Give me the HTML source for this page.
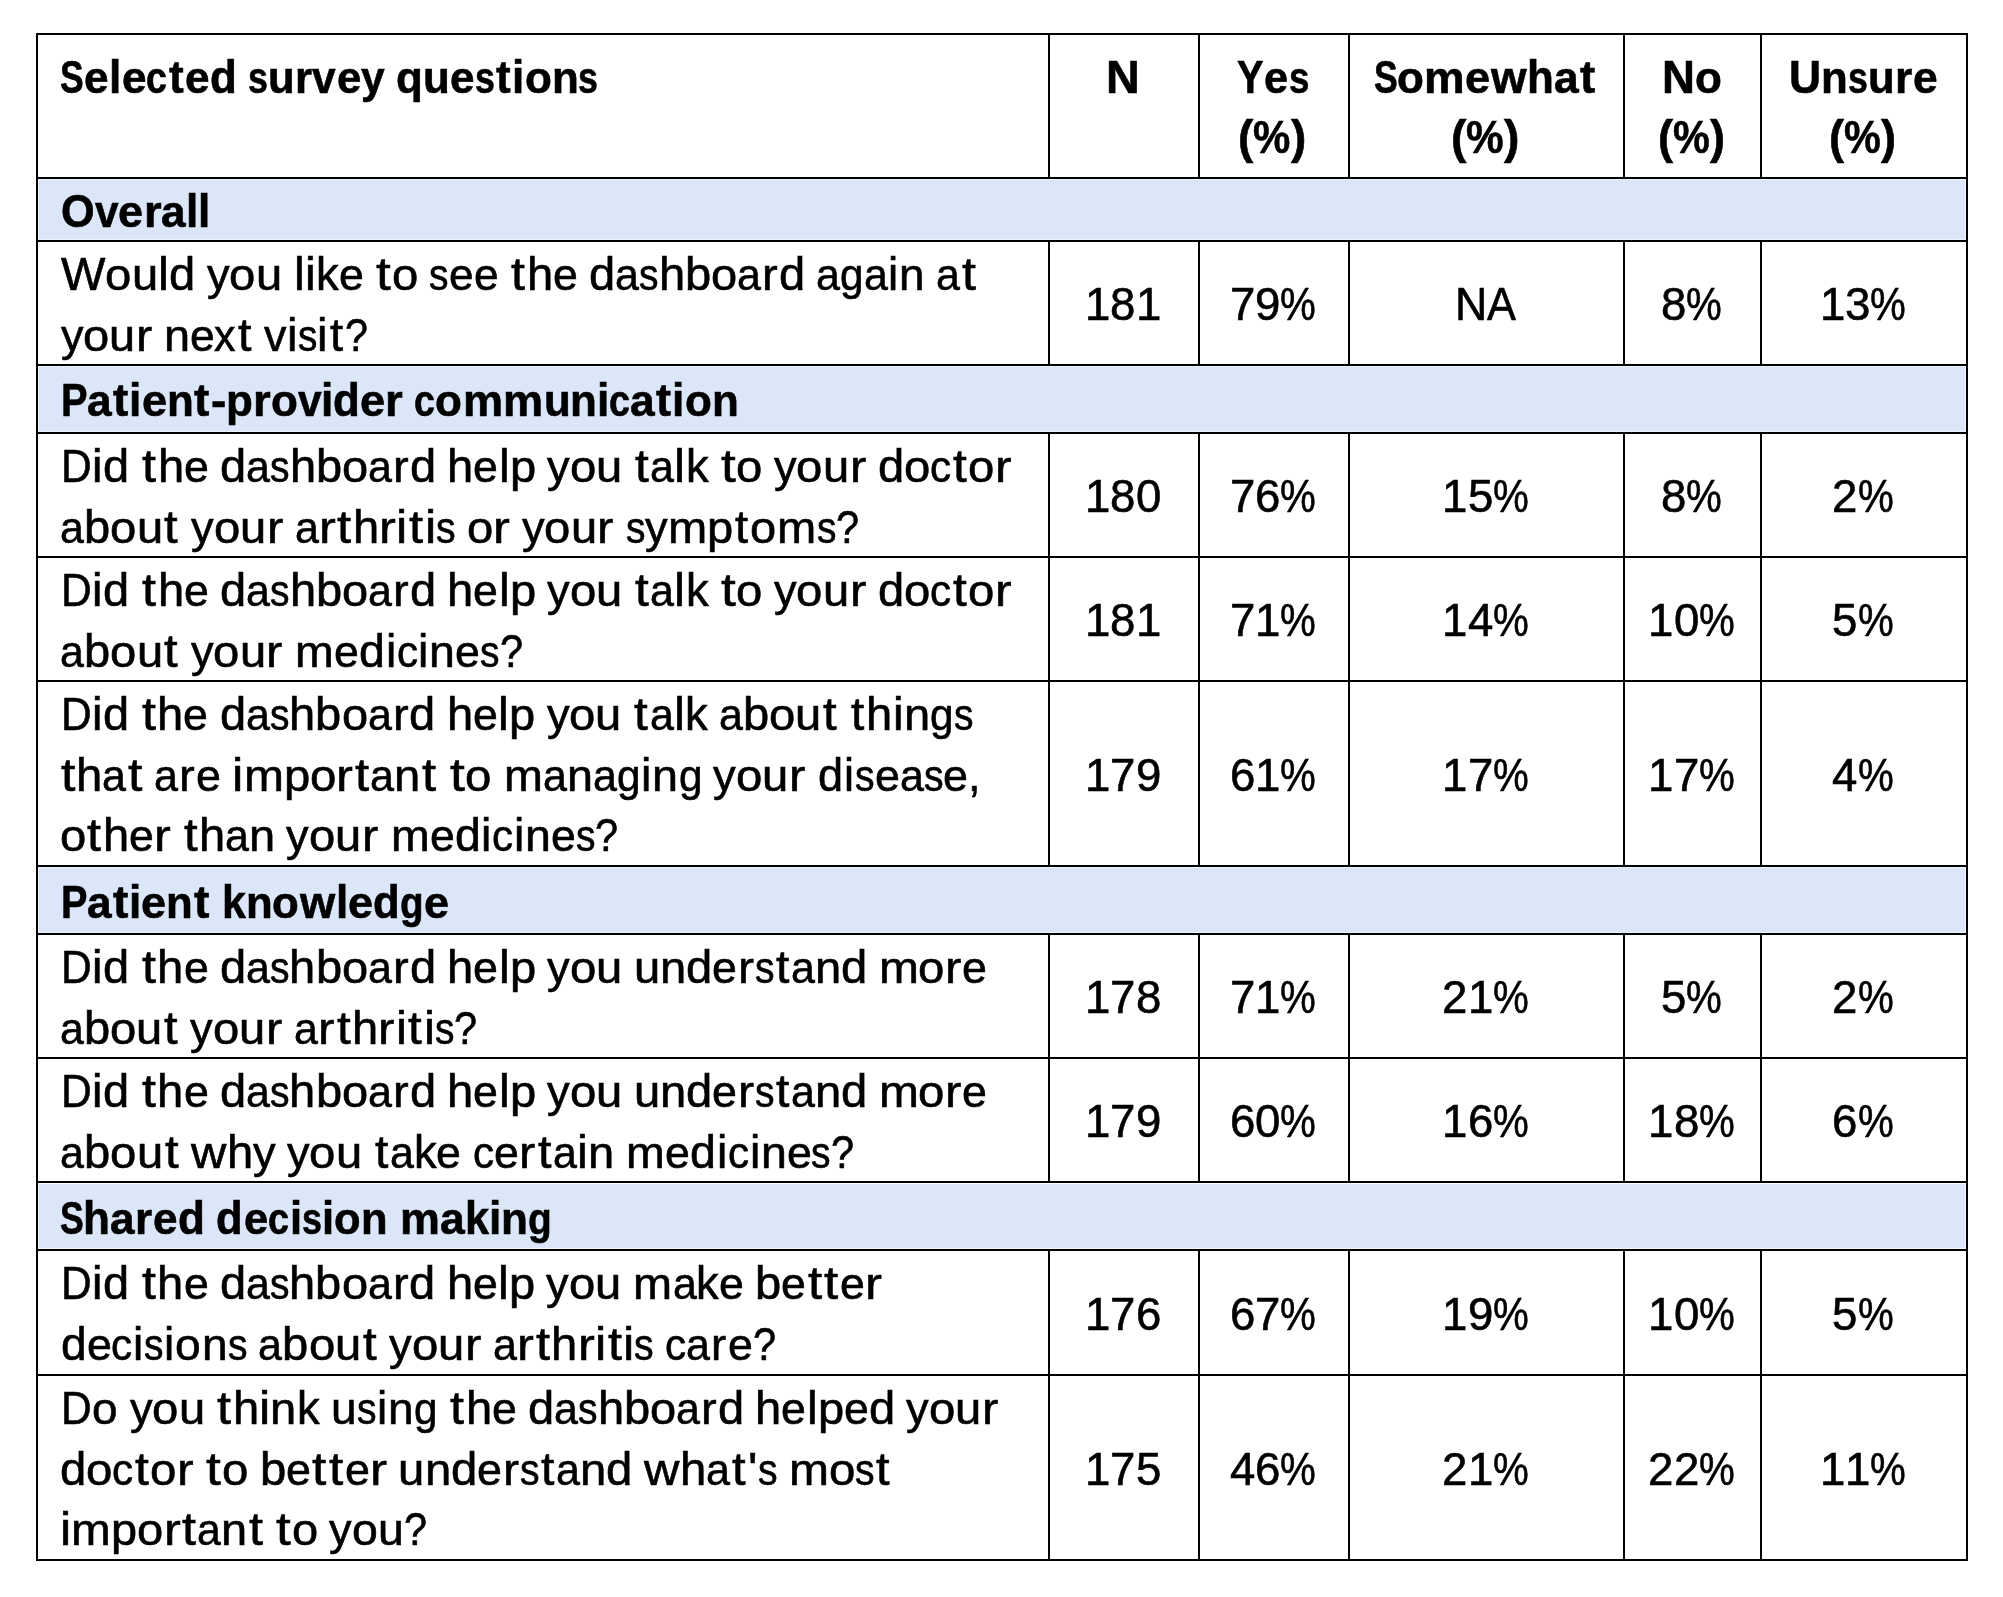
<!DOCTYPE html><html><head><meta charset="utf-8"><style>
html,body{margin:0;padding:0;background:#fff;width:2003px;height:1597px;overflow:hidden;position:relative}
#w{position:absolute;left:0;top:0;width:2003px;height:1597px;filter:grayscale(1)}
.t{position:absolute;white-space:pre;font-family:"Liberation Sans",sans-serif;font-size:46px;line-height:46px;color:#000;transform-origin:0 0;-webkit-text-stroke:0.60px #000}
.b{font-weight:700}
.h{position:absolute;background:#000;height:2px}
.v{position:absolute;background:#000;width:2px}
.bg{position:absolute;background:#DBE7F8}
.n{position:absolute;white-space:pre;font-family:"Liberation Sans",sans-serif;font-size:46px;line-height:46px;color:#000;text-align:center;-webkit-text-stroke:0.60px #000}
</style></head><body>
<div class="bg" style="left:38px;top:179px;width:1928px;height:61px;background:#EDF3FC"></div>
<div class="bg" style="left:39px;top:180px;width:1926px;height:59px"></div>
<div class="bg" style="left:38px;top:366px;width:1928px;height:66px;background:#EDF3FC"></div>
<div class="bg" style="left:39px;top:367px;width:1926px;height:64px"></div>
<div class="bg" style="left:38px;top:867px;width:1928px;height:66px;background:#EDF3FC"></div>
<div class="bg" style="left:39px;top:868px;width:1926px;height:64px"></div>
<div class="bg" style="left:38px;top:1183px;width:1928px;height:66px;background:#EDF3FC"></div>
<div class="bg" style="left:38px;top:1183px;width:1928px;height:1px;background:#FFFFFF"></div>
<div class="bg" style="left:39px;top:1184px;width:1926px;height:64px"></div>
<div class="h" style="left:36px;top:33px;width:1932px"></div>
<div class="h" style="left:36px;top:177px;width:1932px"></div>
<div class="h" style="left:36px;top:240px;width:1932px"></div>
<div class="h" style="left:36px;top:364px;width:1932px"></div>
<div class="h" style="left:36px;top:432px;width:1932px"></div>
<div class="h" style="left:36px;top:556px;width:1932px"></div>
<div class="h" style="left:36px;top:680px;width:1932px"></div>
<div class="h" style="left:36px;top:865px;width:1932px"></div>
<div class="h" style="left:36px;top:933px;width:1932px"></div>
<div class="h" style="left:36px;top:1057px;width:1932px"></div>
<div class="h" style="left:36px;top:1181px;width:1932px"></div>
<div class="h" style="left:36px;top:1249px;width:1932px"></div>
<div class="h" style="left:36px;top:1374px;width:1932px"></div>
<div class="h" style="left:36px;top:1559px;width:1932px"></div>
<div class="v" style="left:36px;top:33px;height:1528px"></div>
<div class="v" style="left:1048px;top:33px;height:146px"></div>
<div class="v" style="left:1048px;top:240px;height:126px"></div>
<div class="v" style="left:1048px;top:432px;height:126px"></div>
<div class="v" style="left:1048px;top:556px;height:126px"></div>
<div class="v" style="left:1048px;top:680px;height:187px"></div>
<div class="v" style="left:1048px;top:933px;height:126px"></div>
<div class="v" style="left:1048px;top:1057px;height:126px"></div>
<div class="v" style="left:1048px;top:1249px;height:127px"></div>
<div class="v" style="left:1048px;top:1374px;height:187px"></div>
<div class="v" style="left:1198px;top:33px;height:146px"></div>
<div class="v" style="left:1198px;top:240px;height:126px"></div>
<div class="v" style="left:1198px;top:432px;height:126px"></div>
<div class="v" style="left:1198px;top:556px;height:126px"></div>
<div class="v" style="left:1198px;top:680px;height:187px"></div>
<div class="v" style="left:1198px;top:933px;height:126px"></div>
<div class="v" style="left:1198px;top:1057px;height:126px"></div>
<div class="v" style="left:1198px;top:1249px;height:127px"></div>
<div class="v" style="left:1198px;top:1374px;height:187px"></div>
<div class="v" style="left:1348px;top:33px;height:146px"></div>
<div class="v" style="left:1348px;top:240px;height:126px"></div>
<div class="v" style="left:1348px;top:432px;height:126px"></div>
<div class="v" style="left:1348px;top:556px;height:126px"></div>
<div class="v" style="left:1348px;top:680px;height:187px"></div>
<div class="v" style="left:1348px;top:933px;height:126px"></div>
<div class="v" style="left:1348px;top:1057px;height:126px"></div>
<div class="v" style="left:1348px;top:1249px;height:127px"></div>
<div class="v" style="left:1348px;top:1374px;height:187px"></div>
<div class="v" style="left:1623px;top:33px;height:146px"></div>
<div class="v" style="left:1623px;top:240px;height:126px"></div>
<div class="v" style="left:1623px;top:432px;height:126px"></div>
<div class="v" style="left:1623px;top:556px;height:126px"></div>
<div class="v" style="left:1623px;top:680px;height:187px"></div>
<div class="v" style="left:1623px;top:933px;height:126px"></div>
<div class="v" style="left:1623px;top:1057px;height:126px"></div>
<div class="v" style="left:1623px;top:1249px;height:127px"></div>
<div class="v" style="left:1623px;top:1374px;height:187px"></div>
<div class="v" style="left:1760px;top:33px;height:146px"></div>
<div class="v" style="left:1760px;top:240px;height:126px"></div>
<div class="v" style="left:1760px;top:432px;height:126px"></div>
<div class="v" style="left:1760px;top:556px;height:126px"></div>
<div class="v" style="left:1760px;top:680px;height:187px"></div>
<div class="v" style="left:1760px;top:933px;height:126px"></div>
<div class="v" style="left:1760px;top:1057px;height:126px"></div>
<div class="v" style="left:1760px;top:1249px;height:127px"></div>
<div class="v" style="left:1760px;top:1374px;height:187px"></div>
<div class="v" style="left:1966px;top:33px;height:1528px"></div>
<div id="w">
<div class="t b" id="t0_0_0" style="left:60.20px;top:54.30px;transform:scaleX(0.7705)">S</div>
<div class="t b" id="t0_0_1" style="left:84.13px;top:54.30px;transform-origin:0 39px;transform:scale(0.9604,0.9550)">e</div>
<div class="t b" id="t0_0_2" style="left:108.99px;top:54.30px;transform:scaleX(0.9604)">l</div>
<div class="t b" id="t0_0_3" style="left:121.56px;top:54.30px;transform-origin:0 39px;transform:scale(0.9604,0.9550)">e</div>
<div class="t b" id="t0_0_4" style="left:146.42px;top:54.30px;transform-origin:0 39px;transform:scale(0.8166,0.9550)">c</div>
<div class="t b" id="t0_0_5" style="left:168.62px;top:54.30px;transform:scaleX(0.9604)">t</div>
<div class="t b" id="t0_0_6" style="left:184.94px;top:54.30px;transform-origin:0 39px;transform:scale(0.9604,0.9550)">e</div>
<div class="t b" id="t0_0_7" style="left:209.79px;top:54.30px;transform:scaleX(0.9552)">d</div>
<div class="t b" id="t0_1_0" style="left:247.93px;top:54.30px;transform-origin:0 39px;transform:scale(0.7795,0.9550)">s</div>
<div class="t b" id="t0_1_1" style="left:267.93px;top:54.30px;transform-origin:0 39px;transform:scale(0.9513,0.9550)">u</div>
<div class="t b" id="t0_1_2" style="left:295.07px;top:54.30px;transform-origin:0 39px;transform:scale(0.9513,0.9550)">r</div>
<div class="t b" id="t0_1_3" style="left:312.45px;top:54.30px;transform-origin:0 39px;transform:scale(0.9241,0.9550)">v</div>
<div class="t b" id="t0_1_4" style="left:336.50px;top:54.30px;transform-origin:0 39px;transform:scale(0.9513,0.9550)">e</div>
<div class="t b" id="t0_1_5" style="left:361.24px;top:54.30px;transform-origin:0 39px;transform:scale(0.9260,0.9550)">y</div>
<div class="t b" id="t0_2_0" style="left:396.22px;top:54.30px;transform-origin:0 39px;transform:scale(0.9552,0.9550)">q</div>
<div class="t b" id="t0_2_1" style="left:423.06px;top:54.30px;transform-origin:0 39px;transform:scale(0.9552,0.9550)">u</div>
<div class="t b" id="t0_2_2" style="left:450.22px;top:54.30px;transform-origin:0 39px;transform:scale(0.9581,0.9550)">e</div>
<div class="t b" id="t0_2_3" style="left:475.04px;top:54.30px;transform-origin:0 39px;transform:scale(0.7795,0.9550)">s</div>
<div class="t b" id="t0_2_4" style="left:496.32px;top:54.30px;transform:scaleX(0.9581)">t</div>
<div class="t b" id="t0_2_5" style="left:512.35px;top:54.30px;transform:scaleX(0.9581)">i</div>
<div class="t b" id="t0_2_6" style="left:524.62px;top:54.30px;transform-origin:0 39px;transform:scale(0.9570,0.9550)">o</div>
<div class="t b" id="t0_2_7" style="left:551.51px;top:54.30px;transform-origin:0 39px;transform:scale(0.9552,0.9550)">n</div>
<div class="t b" id="t0_2_8" style="left:578.35px;top:54.30px;transform-origin:0 39px;transform:scale(0.7795,0.9550)">s</div>
<div class="t b" id="t1_0_0" style="left:1106.12px;top:54.30px;transform:scaleX(1.0159)">N</div>
<div class="t b" id="t2_0_0" style="left:1236.65px;top:54.00px;transform:scaleX(0.8665)">Y</div>
<div class="t b" id="t2_0_1" style="left:1264.02px;top:54.00px;transform-origin:0 39px;transform:scale(0.9442,0.9550)">e</div>
<div class="t b" id="t2_0_2" style="left:1288.95px;top:54.00px;transform-origin:0 39px;transform:scale(0.7974,0.9550)">s</div>
<div class="t b" id="t3_0_0" style="left:1237.73px;top:114.00px;transform:scaleX(0.9971)">(</div>
<div class="t b" id="t3_0_1" style="left:1253.35px;top:114.00px;transform:scaleX(0.9123)">%</div>
<div class="t b" id="t3_0_2" style="left:1291.01px;top:114.00px;transform:scaleX(0.9971)">)</div>
<div class="t b" id="t4_0_0" style="left:1373.80px;top:54.00px;transform:scaleX(0.7731)">S</div>
<div class="t b" id="t4_0_1" style="left:1397.48px;top:54.00px;transform-origin:0 39px;transform:scale(0.9565,0.9550)">o</div>
<div class="t b" id="t4_0_2" style="left:1424.35px;top:54.00px;transform-origin:0 39px;transform:scale(0.9930,0.9550)">m</div>
<div class="t b" id="t4_0_3" style="left:1464.97px;top:54.00px;transform-origin:0 39px;transform:scale(0.9822,0.9550)">e</div>
<div class="t b" id="t4_0_4" style="left:1490.90px;top:54.00px;transform-origin:0 39px;transform:scale(0.9953,0.9550)">w</div>
<div class="t b" id="t4_0_5" style="left:1527.31px;top:54.00px;transform:scaleX(0.9547)">h</div>
<div class="t b" id="t4_0_6" style="left:1554.14px;top:54.00px;transform-origin:0 39px;transform:scale(0.9646,0.9550)">a</div>
<div class="t b" id="t4_0_7" style="left:1579.86px;top:54.00px;transform:scaleX(0.9953)">t</div>
<div class="t b" id="t5_0_0" style="left:1450.67px;top:114.00px;transform:scaleX(1.0057)">(</div>
<div class="t b" id="t5_0_1" style="left:1466.43px;top:114.00px;transform:scaleX(0.9202)">%</div>
<div class="t b" id="t5_0_2" style="left:1504.41px;top:114.00px;transform:scaleX(1.0057)">)</div>
<div class="t b" id="t6_0_0" style="left:1662.08px;top:54.00px;transform:scaleX(0.9919)">N</div>
<div class="t b" id="t6_0_1" style="left:1695.03px;top:54.00px;transform-origin:0 39px;transform:scale(0.9573,0.9550)">o</div>
<div class="t b" id="t7_0_0" style="left:1657.97px;top:114.00px;transform:scaleX(0.9826)">(</div>
<div class="t b" id="t7_0_1" style="left:1673.37px;top:114.00px;transform:scaleX(0.8991)">%</div>
<div class="t b" id="t7_0_2" style="left:1710.48px;top:114.00px;transform:scaleX(0.9826)">)</div>
<div class="t b" id="t8_0_0" style="left:1789.17px;top:54.00px;transform:scaleX(0.9658)">U</div>
<div class="t b" id="t8_0_1" style="left:1821.47px;top:54.00px;transform-origin:0 39px;transform:scale(0.9517,0.9550)">n</div>
<div class="t b" id="t8_0_2" style="left:1848.21px;top:54.00px;transform-origin:0 39px;transform:scale(0.7767,0.9550)">s</div>
<div class="t b" id="t8_0_3" style="left:1868.08px;top:54.00px;transform-origin:0 39px;transform:scale(0.9517,0.9550)">u</div>
<div class="t b" id="t8_0_4" style="left:1895.02px;top:54.00px;transform-origin:0 39px;transform:scale(0.9658,0.9550)">r</div>
<div class="t b" id="t8_0_5" style="left:1912.67px;top:54.00px;transform-origin:0 39px;transform:scale(0.9658,0.9550)">e</div>
<div class="t b" id="t9_0_0" style="left:1828.96px;top:114.00px;transform:scaleX(0.9826)">(</div>
<div class="t b" id="t9_0_1" style="left:1844.36px;top:114.00px;transform:scaleX(0.8991)">%</div>
<div class="t b" id="t9_0_2" style="left:1881.47px;top:114.00px;transform:scaleX(0.9826)">)</div>
<div class="t b" id="t10_0_0" style="left:61.22px;top:187.80px;transform:scaleX(0.9409)">O</div>
<div class="t b" id="t10_0_1" style="left:94.88px;top:187.80px;transform-origin:0 39px;transform:scale(0.9207,0.9550)">v</div>
<div class="t b" id="t10_0_2" style="left:118.44px;top:187.80px;transform-origin:0 39px;transform:scale(0.9791,0.9550)">e</div>
<div class="t b" id="t10_0_3" style="left:143.52px;top:187.80px;transform-origin:0 39px;transform:scale(0.9842,0.9550)">r</div>
<div class="t b" id="t10_0_4" style="left:161.17px;top:187.80px;transform-origin:0 39px;transform:scale(0.9616,0.9550)">a</div>
<div class="t b" id="t10_0_5" style="left:185.77px;top:187.80px;transform:scaleX(0.9586)">l</div>
<div class="t b" id="t10_0_6" style="left:198.02px;top:187.80px;transform:scaleX(0.9586)">l</div>
<div class="t" id="t11_0_0" style="left:60.87px;top:251.00px;transform:scaleX(1.0234)">W</div>
<div class="t" id="t11_0_1" style="left:105.30px;top:251.00px;transform-origin:0 39px;transform:scale(1.0284,0.9550)">o</div>
<div class="t" id="t11_0_2" style="left:131.61px;top:251.00px;transform-origin:0 39px;transform:scale(1.0245,0.9550)">u</div>
<div class="t" id="t11_0_3" style="left:158.09px;top:251.00px;transform:scaleX(1.0705)">l</div>
<div class="t" id="t11_0_4" style="left:169.30px;top:251.00px;transform:scaleX(1.0245)">d</div>
<div class="t" id="t11_1_0" style="left:206.80px;top:251.00px;transform-origin:0 39px;transform:scale(0.9833,0.9550)">y</div>
<div class="t" id="t11_1_1" style="left:229.41px;top:251.00px;transform-origin:0 39px;transform:scale(1.0284,0.9550)">o</div>
<div class="t" id="t11_1_2" style="left:255.72px;top:251.00px;transform-origin:0 39px;transform:scale(1.0245,0.9550)">u</div>
<div class="t" id="t11_2_0" style="left:293.58px;top:251.00px;transform:scaleX(1.0527)">l</div>
<div class="t" id="t11_2_1" style="left:305.06px;top:251.00px;transform:scaleX(1.0527)">i</div>
<div class="t" id="t11_2_2" style="left:316.18px;top:251.00px;transform:scaleX(0.9876)">k</div>
<div class="t" id="t11_2_3" style="left:338.90px;top:251.00px;transform-origin:0 39px;transform:scale(0.9718,0.9550)">e</div>
<div class="t" id="t11_3_0" style="left:376.02px;top:251.00px;transform:scaleX(1.1554)">t</div>
<div class="t" id="t11_3_1" style="left:391.77px;top:251.00px;transform-origin:0 39px;transform:scale(1.0284,0.9550)">o</div>
<div class="t" id="t11_4_0" style="left:429.36px;top:251.00px;transform-origin:0 39px;transform:scale(0.8487,0.9550)">s</div>
<div class="t" id="t11_4_1" style="left:449.01px;top:251.00px;transform-origin:0 39px;transform:scale(0.9617,0.9550)">e</div>
<div class="t" id="t11_4_2" style="left:473.87px;top:251.00px;transform-origin:0 39px;transform:scale(0.9617,0.9550)">e</div>
<div class="t" id="t11_5_0" style="left:511.27px;top:251.00px;transform:scaleX(1.0920)">t</div>
<div class="t" id="t11_5_1" style="left:526.61px;top:251.00px;transform:scaleX(1.0245)">h</div>
<div class="t" id="t11_5_2" style="left:552.82px;top:251.00px;transform-origin:0 39px;transform:scale(0.9718,0.9550)">e</div>
<div class="t" id="t11_6_0" style="left:588.99px;top:251.00px;transform:scaleX(1.0230)">d</div>
<div class="t" id="t11_6_1" style="left:615.18px;top:251.00px;transform-origin:0 39px;transform:scale(0.9347,0.9550)">a</div>
<div class="t" id="t11_6_2" style="left:639.09px;top:251.00px;transform-origin:0 39px;transform:scale(0.8487,0.9550)">s</div>
<div class="t" id="t11_6_3" style="left:658.63px;top:251.00px;transform:scaleX(1.0230)">h</div>
<div class="t" id="t11_6_4" style="left:684.84px;top:251.00px;transform:scaleX(1.0230)">b</div>
<div class="t" id="t11_6_5" style="left:711.10px;top:251.00px;transform-origin:0 39px;transform:scale(1.0230,0.9550)">o</div>
<div class="t" id="t11_6_6" style="left:737.34px;top:251.00px;transform-origin:0 39px;transform:scale(0.9347,0.9550)">a</div>
<div class="t" id="t11_6_7" style="left:762.13px;top:251.00px;transform-origin:0 39px;transform:scale(1.0230,0.9550)">r</div>
<div class="t" id="t11_6_8" style="left:778.70px;top:251.00px;transform:scaleX(1.0230)">d</div>
<div class="t" id="t11_7_0" style="left:816.17px;top:251.00px;transform-origin:0 39px;transform:scale(0.9347,0.9550)">a</div>
<div class="t" id="t11_7_1" style="left:840.08px;top:251.00px;transform-origin:0 39px;transform:scale(0.9191,0.9550)">g</div>
<div class="t" id="t11_7_2" style="left:863.60px;top:251.00px;transform-origin:0 39px;transform:scale(0.9347,0.9550)">a</div>
<div class="t" id="t11_7_3" style="left:888.15px;top:251.00px;transform:scaleX(0.9978)">i</div>
<div class="t" id="t11_7_4" style="left:899.34px;top:251.00px;transform-origin:0 39px;transform:scale(0.9978,0.9550)">n</div>
<div class="t" id="t11_8_0" style="left:936.49px;top:251.00px;transform-origin:0 39px;transform:scale(0.9347,0.9550)">a</div>
<div class="t" id="t11_8_1" style="left:961.79px;top:251.00px;transform:scaleX(1.0911)">t</div>
<div class="t" id="t12_0_0" style="left:60.50px;top:311.60px;transform-origin:0 39px;transform:scale(0.9772,0.9550)">y</div>
<div class="t" id="t12_0_1" style="left:82.97px;top:311.60px;transform-origin:0 39px;transform:scale(1.0220,0.9550)">o</div>
<div class="t" id="t12_0_2" style="left:109.12px;top:311.60px;transform-origin:0 39px;transform:scale(1.0181,0.9550)">u</div>
<div class="t" id="t12_0_3" style="left:135.72px;top:311.60px;transform-origin:0 39px;transform:scale(1.0588,0.9550)">r</div>
<div class="t" id="t12_1_0" style="left:163.70px;top:311.60px;transform-origin:0 39px;transform:scale(1.0181,0.9550)">n</div>
<div class="t" id="t12_1_1" style="left:189.74px;top:311.60px;transform-origin:0 39px;transform:scale(0.9658,0.9550)">e</div>
<div class="t" id="t12_1_2" style="left:214.45px;top:311.60px;transform-origin:0 39px;transform:scale(0.9340,0.9550)">x</div>
<div class="t" id="t12_1_3" style="left:237.52px;top:311.60px;transform:scaleX(1.0526)">t</div>
<div class="t" id="t12_2_0" style="left:263.76px;top:311.60px;transform-origin:0 39px;transform:scale(0.9750,0.9550)">v</div>
<div class="t" id="t12_2_1" style="left:286.66px;top:311.60px;transform:scaleX(1.0244)">i</div>
<div class="t" id="t12_2_2" style="left:297.60px;top:311.60px;transform-origin:0 39px;transform:scale(0.8434,0.9550)">s</div>
<div class="t" id="t12_2_3" style="left:317.47px;top:311.60px;transform:scaleX(1.0244)">i</div>
<div class="t" id="t12_2_4" style="left:330.17px;top:311.60px;transform:scaleX(1.0244)">t</div>
<div class="t" id="t12_2_5" style="left:345.03px;top:311.60px;transform:scaleX(0.8979)">?</div>
<div class="t b" id="t13_0_0" style="left:60.60px;top:376.70px;transform:scaleX(0.8664)">P</div>
<div class="t b" id="t13_0_1" style="left:87.18px;top:376.70px;transform-origin:0 39px;transform:scale(0.9649,0.9550)">a</div>
<div class="t b" id="t13_0_2" style="left:112.88px;top:376.70px;transform:scaleX(1.0004)">t</div>
<div class="t b" id="t13_0_3" style="left:129.21px;top:376.70px;transform:scaleX(0.9618)">i</div>
<div class="t b" id="t13_0_4" style="left:141.50px;top:376.70px;transform-origin:0 39px;transform:scale(0.9825,0.9550)">e</div>
<div class="t b" id="t13_0_5" style="left:166.64px;top:376.70px;transform-origin:0 39px;transform:scale(0.9550,0.9550)">n</div>
<div class="t b" id="t13_0_6" style="left:194.48px;top:376.70px;transform:scaleX(1.0004)">t</div>
<div class="t b" id="t13_0_7" style="left:210.81px;top:376.70px;transform:scaleX(0.9982)">-</div>
<div class="t b" id="t13_0_8" style="left:226.10px;top:376.70px;transform-origin:0 39px;transform:scale(0.9550,0.9550)">p</div>
<div class="t b" id="t13_0_9" style="left:252.93px;top:376.70px;transform-origin:0 39px;transform:scale(0.9909,0.9550)">r</div>
<div class="t b" id="t13_0_10" style="left:270.67px;top:376.70px;transform-origin:0 39px;transform:scale(0.9568,0.9550)">o</div>
<div class="t b" id="t13_0_11" style="left:297.56px;top:376.70px;transform-origin:0 39px;transform:scale(0.9239,0.9550)">v</div>
<div class="t b" id="t13_0_12" style="left:321.19px;top:376.70px;transform:scaleX(0.9618)">i</div>
<div class="t b" id="t13_0_13" style="left:333.49px;top:376.70px;transform:scaleX(0.9550)">d</div>
<div class="t b" id="t13_0_14" style="left:360.32px;top:376.70px;transform-origin:0 39px;transform:scale(0.9825,0.9550)">e</div>
<div class="t b" id="t13_0_15" style="left:385.45px;top:376.70px;transform-origin:0 39px;transform:scale(0.9909,0.9550)">r</div>
<div class="t b" id="t13_1_0" style="left:414.49px;top:376.70px;transform-origin:0 39px;transform:scale(0.8165,0.9550)">c</div>
<div class="t b" id="t13_1_1" style="left:435.38px;top:376.70px;transform-origin:0 39px;transform:scale(0.9568,0.9550)">o</div>
<div class="t b" id="t13_1_2" style="left:462.50px;top:376.70px;transform-origin:0 39px;transform:scale(0.9815,0.9550)">m</div>
<div class="t b" id="t13_1_3" style="left:503.13px;top:376.70px;transform-origin:0 39px;transform:scale(0.9815,0.9550)">m</div>
<div class="t b" id="t13_1_4" style="left:543.51px;top:376.70px;transform-origin:0 39px;transform:scale(0.9550,0.9550)">u</div>
<div class="t b" id="t13_1_5" style="left:570.34px;top:376.70px;transform-origin:0 39px;transform:scale(0.9550,0.9550)">n</div>
<div class="t b" id="t13_1_6" style="left:597.18px;top:376.70px;transform:scaleX(0.9618)">i</div>
<div class="t b" id="t13_1_7" style="left:609.47px;top:376.70px;transform-origin:0 39px;transform:scale(0.8165,0.9550)">c</div>
<div class="t b" id="t13_1_8" style="left:630.36px;top:376.70px;transform-origin:0 39px;transform:scale(0.9649,0.9550)">a</div>
<div class="t b" id="t13_1_9" style="left:656.20px;top:376.70px;transform:scaleX(0.9815)">t</div>
<div class="t b" id="t13_1_10" style="left:672.38px;top:376.70px;transform:scaleX(0.9618)">i</div>
<div class="t b" id="t13_1_11" style="left:684.68px;top:376.70px;transform-origin:0 39px;transform:scale(0.9568,0.9550)">o</div>
<div class="t b" id="t13_1_12" style="left:711.56px;top:376.70px;transform-origin:0 39px;transform:scale(0.9550,0.9550)">n</div>
<div class="t" id="t14_0_0" style="left:61.27px;top:442.80px;transform:scaleX(0.9239)">D</div>
<div class="t" id="t14_0_1" style="left:92.49px;top:442.80px;transform:scaleX(1.0202)">i</div>
<div class="t" id="t14_0_2" style="left:103.49px;top:442.80px;transform:scaleX(1.0202)">d</div>
<div class="t" id="t14_1_0" style="left:142.30px;top:442.80px;transform:scaleX(1.0916)">t</div>
<div class="t" id="t14_1_1" style="left:157.63px;top:442.80px;transform:scaleX(1.0241)">h</div>
<div class="t" id="t14_1_2" style="left:183.83px;top:442.80px;transform-origin:0 39px;transform:scale(0.9714,0.9550)">e</div>
<div class="t" id="t14_2_0" style="left:219.98px;top:442.80px;transform:scaleX(1.0226)">d</div>
<div class="t" id="t14_2_1" style="left:246.16px;top:442.80px;transform-origin:0 39px;transform:scale(0.9344,0.9550)">a</div>
<div class="t" id="t14_2_2" style="left:270.07px;top:442.80px;transform-origin:0 39px;transform:scale(0.8484,0.9550)">s</div>
<div class="t" id="t14_2_3" style="left:289.60px;top:442.80px;transform:scaleX(1.0226)">h</div>
<div class="t" id="t14_2_4" style="left:315.80px;top:442.80px;transform:scaleX(1.0226)">b</div>
<div class="t" id="t14_2_5" style="left:342.05px;top:442.80px;transform-origin:0 39px;transform:scale(1.0226,0.9550)">o</div>
<div class="t" id="t14_2_6" style="left:368.28px;top:442.80px;transform-origin:0 39px;transform:scale(0.9344,0.9550)">a</div>
<div class="t" id="t14_2_7" style="left:393.06px;top:442.80px;transform-origin:0 39px;transform:scale(1.0226,0.9550)">r</div>
<div class="t" id="t14_2_8" style="left:409.62px;top:442.80px;transform:scaleX(1.0226)">d</div>
<div class="t" id="t14_3_0" style="left:447.08px;top:442.80px;transform:scaleX(1.0241)">h</div>
<div class="t" id="t14_3_1" style="left:473.28px;top:442.80px;transform-origin:0 39px;transform:scale(0.9714,0.9550)">e</div>
<div class="t" id="t14_3_2" style="left:498.50px;top:442.80px;transform:scaleX(1.0509)">l</div>
<div class="t" id="t14_3_3" style="left:509.61px;top:442.80px;transform-origin:0 39px;transform:scale(1.0241,0.9550)">p</div>
<div class="t" id="t14_4_0" style="left:547.09px;top:442.80px;transform-origin:0 39px;transform:scale(0.9829,0.9550)">y</div>
<div class="t" id="t14_4_1" style="left:569.69px;top:442.80px;transform-origin:0 39px;transform:scale(1.0280,0.9550)">o</div>
<div class="t" id="t14_4_2" style="left:595.99px;top:442.80px;transform-origin:0 39px;transform:scale(1.0241,0.9550)">u</div>
<div class="t" id="t14_5_0" style="left:634.95px;top:442.80px;transform:scaleX(1.0764)">t</div>
<div class="t" id="t14_5_1" style="left:650.19px;top:442.80px;transform-origin:0 39px;transform:scale(0.9344,0.9550)">a</div>
<div class="t" id="t14_5_2" style="left:674.33px;top:442.80px;transform:scaleX(1.0764)">l</div>
<div class="t" id="t14_5_3" style="left:685.57px;top:442.80px;transform:scaleX(0.9872)">k</div>
<div class="t" id="t14_6_0" style="left:720.53px;top:442.80px;transform:scaleX(1.1550)">t</div>
<div class="t" id="t14_6_1" style="left:736.27px;top:442.80px;transform-origin:0 39px;transform:scale(1.0280,0.9550)">o</div>
<div class="t" id="t14_7_0" style="left:773.85px;top:442.80px;transform-origin:0 39px;transform:scale(0.9829,0.9550)">y</div>
<div class="t" id="t14_7_1" style="left:796.46px;top:442.80px;transform-origin:0 39px;transform:scale(1.0280,0.9550)">o</div>
<div class="t" id="t14_7_2" style="left:822.76px;top:442.80px;transform-origin:0 39px;transform:scale(1.0241,0.9550)">u</div>
<div class="t" id="t14_7_3" style="left:849.51px;top:442.80px;transform-origin:0 39px;transform:scale(1.0650,0.9550)">r</div>
<div class="t" id="t14_8_0" style="left:877.65px;top:442.80px;transform:scaleX(1.0241)">d</div>
<div class="t" id="t14_8_1" style="left:903.85px;top:442.80px;transform-origin:0 39px;transform:scale(1.0280,0.9550)">o</div>
<div class="t" id="t14_8_2" style="left:930.15px;top:442.80px;transform-origin:0 39px;transform:scale(0.9178,0.9550)">c</div>
<div class="t" id="t14_8_3" style="left:952.72px;top:442.80px;transform:scaleX(1.0799)">t</div>
<div class="t" id="t14_8_4" style="left:967.98px;top:442.80px;transform-origin:0 39px;transform:scale(1.0280,0.9550)">o</div>
<div class="t" id="t14_8_5" style="left:994.71px;top:442.80px;transform-origin:0 39px;transform:scale(1.0799,0.9550)">r</div>
<div class="t" id="t15_0_0" style="left:60.38px;top:503.50px;transform-origin:0 39px;transform:scale(0.9341,0.9550)">a</div>
<div class="t" id="t15_0_1" style="left:84.28px;top:503.50px;transform:scaleX(1.0238)">b</div>
<div class="t" id="t15_0_2" style="left:110.47px;top:503.50px;transform-origin:0 39px;transform:scale(1.0277,0.9550)">o</div>
<div class="t" id="t15_0_3" style="left:136.76px;top:503.50px;transform-origin:0 39px;transform:scale(1.0238,0.9550)">u</div>
<div class="t" id="t15_0_4" style="left:164.48px;top:503.50px;transform:scaleX(1.0673)">t</div>
<div class="t" id="t15_1_0" style="left:190.93px;top:503.50px;transform-origin:0 39px;transform:scale(0.9826,0.9550)">y</div>
<div class="t" id="t15_1_1" style="left:213.53px;top:503.50px;transform-origin:0 39px;transform:scale(1.0277,0.9550)">o</div>
<div class="t" id="t15_1_2" style="left:239.82px;top:503.50px;transform-origin:0 39px;transform:scale(1.0238,0.9550)">u</div>
<div class="t" id="t15_1_3" style="left:266.57px;top:503.50px;transform-origin:0 39px;transform:scale(1.0646,0.9550)">r</div>
<div class="t" id="t15_2_0" style="left:294.70px;top:503.50px;transform-origin:0 39px;transform:scale(0.9341,0.9550)">a</div>
<div class="t" id="t15_2_1" style="left:318.89px;top:503.50px;transform-origin:0 39px;transform:scale(1.0982,0.9550)">r</div>
<div class="t" id="t15_2_2" style="left:337.34px;top:503.50px;transform:scaleX(1.0982)">t</div>
<div class="t" id="t15_2_3" style="left:352.72px;top:503.50px;transform:scaleX(1.0238)">h</div>
<div class="t" id="t15_2_4" style="left:379.20px;top:503.50px;transform-origin:0 39px;transform:scale(1.0982,0.9550)">r</div>
<div class="t" id="t15_2_5" style="left:396.44px;top:503.50px;transform:scaleX(1.0982)">i</div>
<div class="t" id="t15_2_6" style="left:409.13px;top:503.50px;transform:scaleX(1.0982)">t</div>
<div class="t" id="t15_2_7" style="left:424.63px;top:503.50px;transform:scaleX(1.0982)">i</div>
<div class="t" id="t15_2_8" style="left:435.92px;top:503.50px;transform-origin:0 39px;transform:scale(0.8530,0.9550)">s</div>
<div class="t" id="t15_3_0" style="left:466.76px;top:503.50px;transform-origin:0 39px;transform:scale(1.0277,0.9550)">o</div>
<div class="t" id="t15_3_1" style="left:493.33px;top:503.50px;transform-origin:0 39px;transform:scale(1.1005,0.9550)">r</div>
<div class="t" id="t15_4_0" style="left:521.73px;top:503.50px;transform-origin:0 39px;transform:scale(0.9826,0.9550)">y</div>
<div class="t" id="t15_4_1" style="left:544.33px;top:503.50px;transform-origin:0 39px;transform:scale(1.0277,0.9550)">o</div>
<div class="t" id="t15_4_2" style="left:570.62px;top:503.50px;transform-origin:0 39px;transform:scale(1.0238,0.9550)">u</div>
<div class="t" id="t15_4_3" style="left:597.37px;top:503.50px;transform-origin:0 39px;transform:scale(1.0646,0.9550)">r</div>
<div class="t" id="t15_5_0" style="left:625.50px;top:503.50px;transform-origin:0 39px;transform:scale(0.8481,0.9550)">s</div>
<div class="t" id="t15_5_1" style="left:645.01px;top:503.50px;transform-origin:0 39px;transform:scale(0.9826,0.9550)">y</div>
<div class="t" id="t15_5_2" style="left:667.93px;top:503.50px;transform-origin:0 39px;transform:scale(1.0232,0.9550)">m</div>
<div class="t" id="t15_5_3" style="left:707.47px;top:503.50px;transform-origin:0 39px;transform:scale(1.0232,0.9550)">p</div>
<div class="t" id="t15_5_4" style="left:735.47px;top:503.50px;transform:scaleX(1.0232)">t</div>
<div class="t" id="t15_5_5" style="left:750.42px;top:503.50px;transform-origin:0 39px;transform:scale(1.0232,0.9550)">o</div>
<div class="t" id="t15_5_6" style="left:776.98px;top:503.50px;transform-origin:0 39px;transform:scale(1.0232,0.9550)">m</div>
<div class="t" id="t15_5_7" style="left:816.52px;top:503.50px;transform-origin:0 39px;transform:scale(0.8481,0.9550)">s</div>
<div class="t" id="t15_5_8" style="left:836.02px;top:503.50px;transform:scaleX(0.9029)">?</div>
<div class="t" id="t16_0_0" style="left:61.27px;top:566.80px;transform:scaleX(0.9239)">D</div>
<div class="t" id="t16_0_1" style="left:92.49px;top:566.80px;transform:scaleX(1.0202)">i</div>
<div class="t" id="t16_0_2" style="left:103.49px;top:566.80px;transform:scaleX(1.0202)">d</div>
<div class="t" id="t16_1_0" style="left:142.30px;top:566.80px;transform:scaleX(1.0916)">t</div>
<div class="t" id="t16_1_1" style="left:157.63px;top:566.80px;transform:scaleX(1.0241)">h</div>
<div class="t" id="t16_1_2" style="left:183.83px;top:566.80px;transform-origin:0 39px;transform:scale(0.9714,0.9550)">e</div>
<div class="t" id="t16_2_0" style="left:219.98px;top:566.80px;transform:scaleX(1.0226)">d</div>
<div class="t" id="t16_2_1" style="left:246.16px;top:566.80px;transform-origin:0 39px;transform:scale(0.9344,0.9550)">a</div>
<div class="t" id="t16_2_2" style="left:270.07px;top:566.80px;transform-origin:0 39px;transform:scale(0.8484,0.9550)">s</div>
<div class="t" id="t16_2_3" style="left:289.60px;top:566.80px;transform:scaleX(1.0226)">h</div>
<div class="t" id="t16_2_4" style="left:315.80px;top:566.80px;transform:scaleX(1.0226)">b</div>
<div class="t" id="t16_2_5" style="left:342.05px;top:566.80px;transform-origin:0 39px;transform:scale(1.0226,0.9550)">o</div>
<div class="t" id="t16_2_6" style="left:368.28px;top:566.80px;transform-origin:0 39px;transform:scale(0.9344,0.9550)">a</div>
<div class="t" id="t16_2_7" style="left:393.06px;top:566.80px;transform-origin:0 39px;transform:scale(1.0226,0.9550)">r</div>
<div class="t" id="t16_2_8" style="left:409.62px;top:566.80px;transform:scaleX(1.0226)">d</div>
<div class="t" id="t16_3_0" style="left:447.08px;top:566.80px;transform:scaleX(1.0241)">h</div>
<div class="t" id="t16_3_1" style="left:473.28px;top:566.80px;transform-origin:0 39px;transform:scale(0.9714,0.9550)">e</div>
<div class="t" id="t16_3_2" style="left:498.50px;top:566.80px;transform:scaleX(1.0509)">l</div>
<div class="t" id="t16_3_3" style="left:509.61px;top:566.80px;transform-origin:0 39px;transform:scale(1.0241,0.9550)">p</div>
<div class="t" id="t16_4_0" style="left:547.09px;top:566.80px;transform-origin:0 39px;transform:scale(0.9829,0.9550)">y</div>
<div class="t" id="t16_4_1" style="left:569.69px;top:566.80px;transform-origin:0 39px;transform:scale(1.0280,0.9550)">o</div>
<div class="t" id="t16_4_2" style="left:595.99px;top:566.80px;transform-origin:0 39px;transform:scale(1.0241,0.9550)">u</div>
<div class="t" id="t16_5_0" style="left:634.95px;top:566.80px;transform:scaleX(1.0764)">t</div>
<div class="t" id="t16_5_1" style="left:650.19px;top:566.80px;transform-origin:0 39px;transform:scale(0.9344,0.9550)">a</div>
<div class="t" id="t16_5_2" style="left:674.33px;top:566.80px;transform:scaleX(1.0764)">l</div>
<div class="t" id="t16_5_3" style="left:685.57px;top:566.80px;transform:scaleX(0.9872)">k</div>
<div class="t" id="t16_6_0" style="left:720.53px;top:566.80px;transform:scaleX(1.1550)">t</div>
<div class="t" id="t16_6_1" style="left:736.27px;top:566.80px;transform-origin:0 39px;transform:scale(1.0280,0.9550)">o</div>
<div class="t" id="t16_7_0" style="left:773.85px;top:566.80px;transform-origin:0 39px;transform:scale(0.9829,0.9550)">y</div>
<div class="t" id="t16_7_1" style="left:796.46px;top:566.80px;transform-origin:0 39px;transform:scale(1.0280,0.9550)">o</div>
<div class="t" id="t16_7_2" style="left:822.76px;top:566.80px;transform-origin:0 39px;transform:scale(1.0241,0.9550)">u</div>
<div class="t" id="t16_7_3" style="left:849.51px;top:566.80px;transform-origin:0 39px;transform:scale(1.0650,0.9550)">r</div>
<div class="t" id="t16_8_0" style="left:877.65px;top:566.80px;transform:scaleX(1.0241)">d</div>
<div class="t" id="t16_8_1" style="left:903.85px;top:566.80px;transform-origin:0 39px;transform:scale(1.0280,0.9550)">o</div>
<div class="t" id="t16_8_2" style="left:930.15px;top:566.80px;transform-origin:0 39px;transform:scale(0.9178,0.9550)">c</div>
<div class="t" id="t16_8_3" style="left:952.72px;top:566.80px;transform:scaleX(1.0799)">t</div>
<div class="t" id="t16_8_4" style="left:967.98px;top:566.80px;transform-origin:0 39px;transform:scale(1.0280,0.9550)">o</div>
<div class="t" id="t16_8_5" style="left:994.71px;top:566.80px;transform-origin:0 39px;transform:scale(1.0799,0.9550)">r</div>
<div class="t" id="t17_0_0" style="left:60.22px;top:627.50px;transform-origin:0 39px;transform:scale(0.9333,0.9550)">a</div>
<div class="t" id="t17_0_1" style="left:84.10px;top:627.50px;transform:scaleX(1.0230)">b</div>
<div class="t" id="t17_0_2" style="left:110.27px;top:627.50px;transform-origin:0 39px;transform:scale(1.0268,0.9550)">o</div>
<div class="t" id="t17_0_3" style="left:136.54px;top:627.50px;transform-origin:0 39px;transform:scale(1.0230,0.9550)">u</div>
<div class="t" id="t17_0_4" style="left:164.24px;top:627.50px;transform:scaleX(1.0665)">t</div>
<div class="t" id="t17_1_0" style="left:190.67px;top:627.50px;transform-origin:0 39px;transform:scale(0.9818,0.9550)">y</div>
<div class="t" id="t17_1_1" style="left:213.25px;top:627.50px;transform-origin:0 39px;transform:scale(1.0268,0.9550)">o</div>
<div class="t" id="t17_1_2" style="left:239.52px;top:627.50px;transform-origin:0 39px;transform:scale(1.0230,0.9550)">u</div>
<div class="t" id="t17_1_3" style="left:266.24px;top:627.50px;transform-origin:0 39px;transform:scale(1.0638,0.9550)">r</div>
<div class="t" id="t17_2_0" style="left:294.90px;top:627.50px;transform-origin:0 39px;transform:scale(1.0111,0.9550)">m</div>
<div class="t" id="t17_2_1" style="left:334.18px;top:627.50px;transform-origin:0 39px;transform:scale(0.9703,0.9550)">e</div>
<div class="t" id="t17_2_2" style="left:359.16px;top:627.50px;transform:scaleX(1.0111)">d</div>
<div class="t" id="t17_2_3" style="left:385.75px;top:627.50px;transform:scaleX(1.0111)">i</div>
<div class="t" id="t17_2_4" style="left:396.64px;top:627.50px;transform-origin:0 39px;transform:scale(0.9168,0.9550)">c</div>
<div class="t" id="t17_2_5" style="left:418.30px;top:627.50px;transform:scaleX(1.0111)">i</div>
<div class="t" id="t17_2_6" style="left:429.35px;top:627.50px;transform-origin:0 39px;transform:scale(1.0111,0.9550)">n</div>
<div class="t" id="t17_2_7" style="left:455.37px;top:627.50px;transform-origin:0 39px;transform:scale(0.9703,0.9550)">e</div>
<div class="t" id="t17_2_8" style="left:480.19px;top:627.50px;transform-origin:0 39px;transform:scale(0.8474,0.9550)">s</div>
<div class="t" id="t17_2_9" style="left:499.68px;top:627.50px;transform:scaleX(0.9021)">?</div>
<div class="t" id="t18_0_0" style="left:60.88px;top:690.80px;transform:scaleX(0.9236)">D</div>
<div class="t" id="t18_0_1" style="left:92.09px;top:690.80px;transform:scaleX(1.0200)">i</div>
<div class="t" id="t18_0_2" style="left:103.09px;top:690.80px;transform:scaleX(1.0200)">d</div>
<div class="t" id="t18_1_0" style="left:141.89px;top:690.80px;transform:scaleX(1.0913)">t</div>
<div class="t" id="t18_1_1" style="left:157.22px;top:690.80px;transform:scaleX(1.0238)">h</div>
<div class="t" id="t18_1_2" style="left:183.41px;top:690.80px;transform-origin:0 39px;transform:scale(0.9712,0.9550)">e</div>
<div class="t" id="t18_2_0" style="left:219.55px;top:690.80px;transform:scaleX(1.0223)">d</div>
<div class="t" id="t18_2_1" style="left:245.73px;top:690.80px;transform-origin:0 39px;transform:scale(0.9341,0.9550)">a</div>
<div class="t" id="t18_2_2" style="left:269.62px;top:690.80px;transform-origin:0 39px;transform:scale(0.8481,0.9550)">s</div>
<div class="t" id="t18_2_3" style="left:289.15px;top:690.80px;transform:scaleX(1.0223)">h</div>
<div class="t" id="t18_2_4" style="left:315.34px;top:690.80px;transform:scaleX(1.0223)">b</div>
<div class="t" id="t18_2_5" style="left:341.59px;top:690.80px;transform-origin:0 39px;transform:scale(1.0223,0.9550)">o</div>
<div class="t" id="t18_2_6" style="left:367.81px;top:690.80px;transform-origin:0 39px;transform:scale(0.9341,0.9550)">a</div>
<div class="t" id="t18_2_7" style="left:392.58px;top:690.80px;transform-origin:0 39px;transform:scale(1.0223,0.9550)">r</div>
<div class="t" id="t18_2_8" style="left:409.14px;top:690.80px;transform:scaleX(1.0223)">d</div>
<div class="t" id="t18_3_0" style="left:446.59px;top:690.80px;transform:scaleX(1.0238)">h</div>
<div class="t" id="t18_3_1" style="left:472.78px;top:690.80px;transform-origin:0 39px;transform:scale(0.9712,0.9550)">e</div>
<div class="t" id="t18_3_2" style="left:497.99px;top:690.80px;transform:scaleX(1.0506)">l</div>
<div class="t" id="t18_3_3" style="left:509.10px;top:690.80px;transform-origin:0 39px;transform:scale(1.0238,0.9550)">p</div>
<div class="t" id="t18_4_0" style="left:546.57px;top:690.80px;transform-origin:0 39px;transform:scale(0.9826,0.9550)">y</div>
<div class="t" id="t18_4_1" style="left:569.17px;top:690.80px;transform-origin:0 39px;transform:scale(1.0277,0.9550)">o</div>
<div class="t" id="t18_4_2" style="left:595.46px;top:690.80px;transform-origin:0 39px;transform:scale(1.0238,0.9550)">u</div>
<div class="t" id="t18_5_0" style="left:634.41px;top:690.80px;transform:scaleX(1.0761)">t</div>
<div class="t" id="t18_5_1" style="left:649.64px;top:690.80px;transform-origin:0 39px;transform:scale(0.9341,0.9550)">a</div>
<div class="t" id="t18_5_2" style="left:673.78px;top:690.80px;transform:scaleX(1.0761)">l</div>
<div class="t" id="t18_5_3" style="left:685.02px;top:690.80px;transform:scaleX(0.9870)">k</div>
<div class="t" id="t18_6_0" style="left:718.99px;top:690.80px;transform-origin:0 39px;transform:scale(0.9341,0.9550)">a</div>
<div class="t" id="t18_6_1" style="left:742.89px;top:690.80px;transform:scaleX(1.0238)">b</div>
<div class="t" id="t18_6_2" style="left:769.08px;top:690.80px;transform-origin:0 39px;transform:scale(1.0277,0.9550)">o</div>
<div class="t" id="t18_6_3" style="left:795.38px;top:690.80px;transform-origin:0 39px;transform:scale(1.0238,0.9550)">u</div>
<div class="t" id="t18_6_4" style="left:823.10px;top:690.80px;transform:scaleX(1.0674)">t</div>
<div class="t" id="t18_7_0" style="left:851.29px;top:690.80px;transform:scaleX(1.0370)">t</div>
<div class="t" id="t18_7_1" style="left:866.27px;top:690.80px;transform:scaleX(1.0238)">h</div>
<div class="t" id="t18_7_2" style="left:892.90px;top:690.80px;transform:scaleX(1.0370)">i</div>
<div class="t" id="t18_7_3" style="left:903.94px;top:690.80px;transform-origin:0 39px;transform:scale(1.0238,0.9550)">n</div>
<div class="t" id="t18_7_4" style="left:930.13px;top:690.80px;transform-origin:0 39px;transform:scale(0.9185,0.9550)">g</div>
<div class="t" id="t18_7_5" style="left:953.63px;top:690.80px;transform-origin:0 39px;transform:scale(0.8481,0.9550)">s</div>
<div class="t" id="t19_0_0" style="left:60.58px;top:751.50px;transform:scaleX(1.1241)">t</div>
<div class="t" id="t19_0_1" style="left:76.14px;top:751.50px;transform:scaleX(1.0265)">h</div>
<div class="t" id="t19_0_2" style="left:102.40px;top:751.50px;transform-origin:0 39px;transform:scale(0.9366,0.9550)">a</div>
<div class="t" id="t19_0_3" style="left:127.55px;top:751.50px;transform:scaleX(1.1241)">t</div>
<div class="t" id="t19_1_0" style="left:154.42px;top:751.50px;transform-origin:0 39px;transform:scale(0.9366,0.9550)">a</div>
<div class="t" id="t19_1_1" style="left:179.24px;top:751.50px;transform-origin:0 39px;transform:scale(1.0276,0.9550)">r</div>
<div class="t" id="t19_1_2" style="left:195.84px;top:751.50px;transform-origin:0 39px;transform:scale(0.9737,0.9550)">e</div>
<div class="t" id="t19_2_0" style="left:232.17px;top:751.50px;transform:scaleX(1.1027)">i</div>
<div class="t" id="t19_2_1" style="left:243.56px;top:751.50px;transform-origin:0 39px;transform:scale(1.0430,0.9550)">m</div>
<div class="t" id="t19_2_2" style="left:283.53px;top:751.50px;transform-origin:0 39px;transform:scale(1.0265,0.9550)">p</div>
<div class="t" id="t19_2_3" style="left:309.79px;top:751.50px;transform-origin:0 39px;transform:scale(1.0304,0.9550)">o</div>
<div class="t" id="t19_2_4" style="left:336.43px;top:751.50px;transform-origin:0 39px;transform:scale(1.1027,0.9550)">r</div>
<div class="t" id="t19_2_5" style="left:354.94px;top:751.50px;transform:scaleX(1.1027)">t</div>
<div class="t" id="t19_2_6" style="left:370.37px;top:751.50px;transform-origin:0 39px;transform:scale(0.9366,0.9550)">a</div>
<div class="t" id="t19_2_7" style="left:394.33px;top:751.50px;transform-origin:0 39px;transform:scale(1.0265,0.9550)">n</div>
<div class="t" id="t19_2_8" style="left:421.92px;top:751.50px;transform:scaleX(1.1027)">t</div>
<div class="t" id="t19_3_0" style="left:449.63px;top:751.50px;transform:scaleX(1.1577)">t</div>
<div class="t" id="t19_3_1" style="left:465.41px;top:751.50px;transform-origin:0 39px;transform:scale(1.0304,0.9550)">o</div>
<div class="t" id="t19_4_0" style="left:503.62px;top:751.50px;transform-origin:0 39px;transform:scale(1.0147,0.9550)">m</div>
<div class="t" id="t19_4_1" style="left:543.04px;top:751.50px;transform-origin:0 39px;transform:scale(0.9366,0.9550)">a</div>
<div class="t" id="t19_4_2" style="left:567.15px;top:751.50px;transform-origin:0 39px;transform:scale(1.0147,0.9550)">n</div>
<div class="t" id="t19_4_3" style="left:593.26px;top:751.50px;transform-origin:0 39px;transform:scale(0.9366,0.9550)">a</div>
<div class="t" id="t19_4_4" style="left:617.23px;top:751.50px;transform-origin:0 39px;transform:scale(0.9209,0.9550)">g</div>
<div class="t" id="t19_4_5" style="left:641.35px;top:751.50px;transform:scaleX(1.0147)">i</div>
<div class="t" id="t19_4_6" style="left:652.44px;top:751.50px;transform-origin:0 39px;transform:scale(1.0147,0.9550)">n</div>
<div class="t" id="t19_4_7" style="left:678.55px;top:751.50px;transform-origin:0 39px;transform:scale(0.9209,0.9550)">g</div>
<div class="t" id="t19_5_0" style="left:713.42px;top:751.50px;transform-origin:0 39px;transform:scale(0.9852,0.9550)">y</div>
<div class="t" id="t19_5_1" style="left:736.08px;top:751.50px;transform-origin:0 39px;transform:scale(1.0304,0.9550)">o</div>
<div class="t" id="t19_5_2" style="left:762.44px;top:751.50px;transform-origin:0 39px;transform:scale(1.0265,0.9550)">u</div>
<div class="t" id="t19_5_3" style="left:789.25px;top:751.50px;transform-origin:0 39px;transform:scale(1.0675,0.9550)">r</div>
<div class="t" id="t19_6_0" style="left:818.05px;top:751.50px;transform:scaleX(0.9809)">d</div>
<div class="t" id="t19_6_1" style="left:844.47px;top:751.50px;transform:scaleX(0.9809)">i</div>
<div class="t" id="t19_6_2" style="left:855.23px;top:751.50px;transform-origin:0 39px;transform:scale(0.8504,0.9550)">s</div>
<div class="t" id="t19_6_3" style="left:874.79px;top:751.50px;transform-origin:0 39px;transform:scale(0.9737,0.9550)">e</div>
<div class="t" id="t19_6_4" style="left:899.70px;top:751.50px;transform-origin:0 39px;transform:scale(0.9366,0.9550)">a</div>
<div class="t" id="t19_6_5" style="left:923.66px;top:751.50px;transform-origin:0 39px;transform:scale(0.8504,0.9550)">s</div>
<div class="t" id="t19_6_6" style="left:943.22px;top:751.50px;transform-origin:0 39px;transform:scale(0.9737,0.9550)">e</div>
<div class="t" id="t19_6_7" style="left:968.13px;top:751.50px;transform:scaleX(0.9785)">,</div>
<div class="t" id="t20_0_0" style="left:59.60px;top:812.40px;transform-origin:0 39px;transform:scale(1.0267,0.9550)">o</div>
<div class="t" id="t20_0_1" style="left:87.22px;top:812.40px;transform:scaleX(1.0938)">t</div>
<div class="t" id="t20_0_2" style="left:102.56px;top:812.40px;transform:scaleX(1.0228)">h</div>
<div class="t" id="t20_0_3" style="left:128.73px;top:812.40px;transform-origin:0 39px;transform:scale(0.9702,0.9550)">e</div>
<div class="t" id="t20_0_4" style="left:153.87px;top:812.40px;transform-origin:0 39px;transform:scale(1.0938,0.9550)">r</div>
<div class="t" id="t20_1_0" style="left:183.72px;top:812.40px;transform:scaleX(1.0688)">t</div>
<div class="t" id="t20_1_1" style="left:198.90px;top:812.40px;transform:scaleX(1.0228)">h</div>
<div class="t" id="t20_1_2" style="left:225.07px;top:812.40px;transform-origin:0 39px;transform:scale(0.9332,0.9550)">a</div>
<div class="t" id="t20_1_3" style="left:248.94px;top:812.40px;transform-origin:0 39px;transform:scale(1.0228,0.9550)">n</div>
<div class="t" id="t20_2_0" style="left:286.37px;top:812.40px;transform-origin:0 39px;transform:scale(0.9816,0.9550)">y</div>
<div class="t" id="t20_2_1" style="left:308.94px;top:812.40px;transform-origin:0 39px;transform:scale(1.0267,0.9550)">o</div>
<div class="t" id="t20_2_2" style="left:335.21px;top:812.40px;transform-origin:0 39px;transform:scale(1.0228,0.9550)">u</div>
<div class="t" id="t20_2_3" style="left:361.93px;top:812.40px;transform-origin:0 39px;transform:scale(1.0636,0.9550)">r</div>
<div class="t" id="t20_3_0" style="left:390.57px;top:812.40px;transform-origin:0 39px;transform:scale(1.0109,0.9550)">m</div>
<div class="t" id="t20_3_1" style="left:429.85px;top:812.40px;transform-origin:0 39px;transform:scale(0.9702,0.9550)">e</div>
<div class="t" id="t20_3_2" style="left:454.83px;top:812.40px;transform:scaleX(1.0109)">d</div>
<div class="t" id="t20_3_3" style="left:481.41px;top:812.40px;transform:scaleX(1.0109)">i</div>
<div class="t" id="t20_3_4" style="left:492.30px;top:812.40px;transform-origin:0 39px;transform:scale(0.9166,0.9550)">c</div>
<div class="t" id="t20_3_5" style="left:513.95px;top:812.40px;transform:scaleX(1.0109)">i</div>
<div class="t" id="t20_3_6" style="left:525.00px;top:812.40px;transform-origin:0 39px;transform:scale(1.0109,0.9550)">n</div>
<div class="t" id="t20_3_7" style="left:551.01px;top:812.40px;transform-origin:0 39px;transform:scale(0.9702,0.9550)">e</div>
<div class="t" id="t20_3_8" style="left:575.83px;top:812.40px;transform-origin:0 39px;transform:scale(0.8473,0.9550)">s</div>
<div class="t" id="t20_3_9" style="left:595.32px;top:812.40px;transform:scaleX(0.9020)">?</div>
<div class="t b" id="t21_0_0" style="left:60.77px;top:878.90px;transform:scaleX(0.8630)">P</div>
<div class="t b" id="t21_0_1" style="left:87.25px;top:878.90px;transform-origin:0 39px;transform:scale(0.9610,0.9550)">a</div>
<div class="t b" id="t21_0_2" style="left:112.77px;top:878.90px;transform:scaleX(1.0048)">t</div>
<div class="t b" id="t21_0_3" style="left:129.10px;top:878.90px;transform:scaleX(0.9580)">i</div>
<div class="t b" id="t21_0_4" style="left:141.35px;top:878.90px;transform-origin:0 39px;transform:scale(0.9785,0.9550)">e</div>
<div class="t b" id="t21_0_5" style="left:166.38px;top:878.90px;transform-origin:0 39px;transform:scale(0.9511,0.9550)">n</div>
<div class="t b" id="t21_0_6" style="left:194.05px;top:878.90px;transform:scaleX(1.0048)">t</div>
<div class="t b" id="t21_1_0" style="left:221.62px;top:878.90px;transform:scaleX(0.9338)">k</div>
<div class="t b" id="t21_1_1" style="left:245.51px;top:878.90px;transform-origin:0 39px;transform:scale(0.9511,0.9550)">n</div>
<div class="t b" id="t21_1_2" style="left:272.24px;top:878.90px;transform-origin:0 39px;transform:scale(0.9529,0.9550)">o</div>
<div class="t b" id="t21_1_3" style="left:299.95px;top:878.90px;transform-origin:0 39px;transform:scale(0.9840,0.9550)">w</div>
<div class="t b" id="t21_1_4" style="left:336.09px;top:878.90px;transform:scaleX(0.9580)">l</div>
<div class="t b" id="t21_1_5" style="left:348.34px;top:878.90px;transform-origin:0 39px;transform:scale(0.9785,0.9550)">e</div>
<div class="t b" id="t21_1_6" style="left:373.37px;top:878.90px;transform:scaleX(0.9511)">d</div>
<div class="t b" id="t21_1_7" style="left:400.10px;top:878.90px;transform-origin:0 39px;transform:scale(0.8396,0.9550)">g</div>
<div class="t b" id="t21_1_8" style="left:423.69px;top:878.90px;transform-origin:0 39px;transform:scale(0.9785,0.9550)">e</div>
<div class="t" id="t22_0_0" style="left:60.85px;top:943.80px;transform:scaleX(0.9248)">D</div>
<div class="t" id="t22_0_1" style="left:92.10px;top:943.80px;transform:scaleX(1.0213)">i</div>
<div class="t" id="t22_0_2" style="left:103.11px;top:943.80px;transform:scaleX(1.0213)">d</div>
<div class="t" id="t22_1_0" style="left:141.96px;top:943.80px;transform:scaleX(1.0927)">t</div>
<div class="t" id="t22_1_1" style="left:157.32px;top:943.80px;transform:scaleX(1.0252)">h</div>
<div class="t" id="t22_1_2" style="left:183.54px;top:943.80px;transform-origin:0 39px;transform:scale(0.9724,0.9550)">e</div>
<div class="t" id="t22_2_0" style="left:219.73px;top:943.80px;transform:scaleX(1.0237)">d</div>
<div class="t" id="t22_2_1" style="left:245.94px;top:943.80px;transform-origin:0 39px;transform:scale(0.9353,0.9550)">a</div>
<div class="t" id="t22_2_2" style="left:269.87px;top:943.80px;transform-origin:0 39px;transform:scale(0.8493,0.9550)">s</div>
<div class="t" id="t22_2_3" style="left:289.42px;top:943.80px;transform:scaleX(1.0237)">h</div>
<div class="t" id="t22_2_4" style="left:315.64px;top:943.80px;transform:scaleX(1.0237)">b</div>
<div class="t" id="t22_2_5" style="left:341.92px;top:943.80px;transform-origin:0 39px;transform:scale(1.0237,0.9550)">o</div>
<div class="t" id="t22_2_6" style="left:368.18px;top:943.80px;transform-origin:0 39px;transform:scale(0.9353,0.9550)">a</div>
<div class="t" id="t22_2_7" style="left:392.99px;top:943.80px;transform-origin:0 39px;transform:scale(1.0237,0.9550)">r</div>
<div class="t" id="t22_2_8" style="left:409.56px;top:943.80px;transform:scaleX(1.0237)">d</div>
<div class="t" id="t22_3_0" style="left:447.06px;top:943.80px;transform:scaleX(1.0252)">h</div>
<div class="t" id="t22_3_1" style="left:473.29px;top:943.80px;transform-origin:0 39px;transform:scale(0.9724,0.9550)">e</div>
<div class="t" id="t22_3_2" style="left:498.53px;top:943.80px;transform:scaleX(1.0519)">l</div>
<div class="t" id="t22_3_3" style="left:509.65px;top:943.80px;transform-origin:0 39px;transform:scale(1.0252,0.9550)">p</div>
<div class="t" id="t22_4_0" style="left:547.17px;top:943.80px;transform-origin:0 39px;transform:scale(0.9839,0.9550)">y</div>
<div class="t" id="t22_4_1" style="left:569.80px;top:943.80px;transform-origin:0 39px;transform:scale(1.0291,0.9550)">o</div>
<div class="t" id="t22_4_2" style="left:596.13px;top:943.80px;transform-origin:0 39px;transform:scale(1.0252,0.9550)">u</div>
<div class="t" id="t22_5_0" style="left:633.65px;top:943.80px;transform-origin:0 39px;transform:scale(1.0252,0.9550)">u</div>
<div class="t" id="t22_5_1" style="left:659.87px;top:943.80px;transform-origin:0 39px;transform:scale(1.0252,0.9550)">n</div>
<div class="t" id="t22_5_2" style="left:686.10px;top:943.80px;transform:scaleX(1.0252)">d</div>
<div class="t" id="t22_5_3" style="left:712.33px;top:943.80px;transform-origin:0 39px;transform:scale(0.9724,0.9550)">e</div>
<div class="t" id="t22_5_4" style="left:737.91px;top:943.80px;transform-origin:0 39px;transform:scale(1.0455,0.9550)">r</div>
<div class="t" id="t22_5_5" style="left:754.64px;top:943.80px;transform-origin:0 39px;transform:scale(0.8493,0.9550)">s</div>
<div class="t" id="t22_5_6" style="left:775.86px;top:943.80px;transform:scaleX(1.0455)">t</div>
<div class="t" id="t22_5_7" style="left:790.91px;top:943.80px;transform-origin:0 39px;transform:scale(0.9353,0.9550)">a</div>
<div class="t" id="t22_5_8" style="left:814.84px;top:943.80px;transform-origin:0 39px;transform:scale(1.0252,0.9550)">n</div>
<div class="t" id="t22_5_9" style="left:841.06px;top:943.80px;transform:scaleX(1.0252)">d</div>
<div class="t" id="t22_6_0" style="left:878.58px;top:943.80px;transform-origin:0 39px;transform:scale(1.0417,0.9550)">m</div>
<div class="t" id="t22_6_1" style="left:918.49px;top:943.80px;transform-origin:0 39px;transform:scale(1.0291,0.9550)">o</div>
<div class="t" id="t22_6_2" style="left:945.37px;top:943.80px;transform-origin:0 39px;transform:scale(1.0669,0.9550)">r</div>
<div class="t" id="t22_6_3" style="left:962.26px;top:943.80px;transform-origin:0 39px;transform:scale(0.9724,0.9550)">e</div>
<div class="t" id="t23_0_0" style="left:59.97px;top:1004.50px;transform-origin:0 39px;transform:scale(0.9326,0.9550)">a</div>
<div class="t" id="t23_0_1" style="left:83.83px;top:1004.50px;transform:scaleX(1.0222)">b</div>
<div class="t" id="t23_0_2" style="left:109.98px;top:1004.50px;transform-origin:0 39px;transform:scale(1.0260,0.9550)">o</div>
<div class="t" id="t23_0_3" style="left:136.23px;top:1004.50px;transform-origin:0 39px;transform:scale(1.0222,0.9550)">u</div>
<div class="t" id="t23_0_4" style="left:163.91px;top:1004.50px;transform:scaleX(1.0656)">t</div>
<div class="t" id="t23_1_0" style="left:190.32px;top:1004.50px;transform-origin:0 39px;transform:scale(0.9810,0.9550)">y</div>
<div class="t" id="t23_1_1" style="left:212.88px;top:1004.50px;transform-origin:0 39px;transform:scale(1.0260,0.9550)">o</div>
<div class="t" id="t23_1_2" style="left:239.13px;top:1004.50px;transform-origin:0 39px;transform:scale(1.0222,0.9550)">u</div>
<div class="t" id="t23_1_3" style="left:265.83px;top:1004.50px;transform-origin:0 39px;transform:scale(1.0629,0.9550)">r</div>
<div class="t" id="t23_2_0" style="left:293.92px;top:1004.50px;transform-origin:0 39px;transform:scale(0.9326,0.9550)">a</div>
<div class="t" id="t23_2_1" style="left:318.26px;top:1004.50px;transform-origin:0 39px;transform:scale(1.0721,0.9550)">r</div>
<div class="t" id="t23_2_2" style="left:336.66px;top:1004.50px;transform:scaleX(1.0721)">t</div>
<div class="t" id="t23_2_3" style="left:351.85px;top:1004.50px;transform:scaleX(1.0222)">h</div>
<div class="t" id="t23_2_4" style="left:378.48px;top:1004.50px;transform-origin:0 39px;transform:scale(1.0721,0.9550)">r</div>
<div class="t" id="t23_2_5" style="left:395.63px;top:1004.50px;transform:scaleX(1.0721)">i</div>
<div class="t" id="t23_2_6" style="left:408.33px;top:1004.50px;transform:scaleX(1.0721)">t</div>
<div class="t" id="t23_2_7" style="left:423.78px;top:1004.50px;transform:scaleX(1.0721)">i</div>
<div class="t" id="t23_2_8" style="left:434.98px;top:1004.50px;transform-origin:0 39px;transform:scale(0.8468,0.9550)">s</div>
<div class="t" id="t23_2_9" style="left:454.46px;top:1004.50px;transform:scaleX(0.9014)">?</div>
<div class="t" id="t24_0_0" style="left:60.85px;top:1067.80px;transform:scaleX(0.9248)">D</div>
<div class="t" id="t24_0_1" style="left:92.10px;top:1067.80px;transform:scaleX(1.0213)">i</div>
<div class="t" id="t24_0_2" style="left:103.11px;top:1067.80px;transform:scaleX(1.0213)">d</div>
<div class="t" id="t24_1_0" style="left:141.96px;top:1067.80px;transform:scaleX(1.0927)">t</div>
<div class="t" id="t24_1_1" style="left:157.32px;top:1067.80px;transform:scaleX(1.0252)">h</div>
<div class="t" id="t24_1_2" style="left:183.54px;top:1067.80px;transform-origin:0 39px;transform:scale(0.9724,0.9550)">e</div>
<div class="t" id="t24_2_0" style="left:219.73px;top:1067.80px;transform:scaleX(1.0237)">d</div>
<div class="t" id="t24_2_1" style="left:245.94px;top:1067.80px;transform-origin:0 39px;transform:scale(0.9353,0.9550)">a</div>
<div class="t" id="t24_2_2" style="left:269.87px;top:1067.80px;transform-origin:0 39px;transform:scale(0.8493,0.9550)">s</div>
<div class="t" id="t24_2_3" style="left:289.42px;top:1067.80px;transform:scaleX(1.0237)">h</div>
<div class="t" id="t24_2_4" style="left:315.64px;top:1067.80px;transform:scaleX(1.0237)">b</div>
<div class="t" id="t24_2_5" style="left:341.92px;top:1067.80px;transform-origin:0 39px;transform:scale(1.0237,0.9550)">o</div>
<div class="t" id="t24_2_6" style="left:368.18px;top:1067.80px;transform-origin:0 39px;transform:scale(0.9353,0.9550)">a</div>
<div class="t" id="t24_2_7" style="left:392.99px;top:1067.80px;transform-origin:0 39px;transform:scale(1.0237,0.9550)">r</div>
<div class="t" id="t24_2_8" style="left:409.56px;top:1067.80px;transform:scaleX(1.0237)">d</div>
<div class="t" id="t24_3_0" style="left:447.06px;top:1067.80px;transform:scaleX(1.0252)">h</div>
<div class="t" id="t24_3_1" style="left:473.29px;top:1067.80px;transform-origin:0 39px;transform:scale(0.9724,0.9550)">e</div>
<div class="t" id="t24_3_2" style="left:498.53px;top:1067.80px;transform:scaleX(1.0519)">l</div>
<div class="t" id="t24_3_3" style="left:509.65px;top:1067.80px;transform-origin:0 39px;transform:scale(1.0252,0.9550)">p</div>
<div class="t" id="t24_4_0" style="left:547.17px;top:1067.80px;transform-origin:0 39px;transform:scale(0.9839,0.9550)">y</div>
<div class="t" id="t24_4_1" style="left:569.80px;top:1067.80px;transform-origin:0 39px;transform:scale(1.0291,0.9550)">o</div>
<div class="t" id="t24_4_2" style="left:596.13px;top:1067.80px;transform-origin:0 39px;transform:scale(1.0252,0.9550)">u</div>
<div class="t" id="t24_5_0" style="left:633.65px;top:1067.80px;transform-origin:0 39px;transform:scale(1.0252,0.9550)">u</div>
<div class="t" id="t24_5_1" style="left:659.87px;top:1067.80px;transform-origin:0 39px;transform:scale(1.0252,0.9550)">n</div>
<div class="t" id="t24_5_2" style="left:686.10px;top:1067.80px;transform:scaleX(1.0252)">d</div>
<div class="t" id="t24_5_3" style="left:712.33px;top:1067.80px;transform-origin:0 39px;transform:scale(0.9724,0.9550)">e</div>
<div class="t" id="t24_5_4" style="left:737.91px;top:1067.80px;transform-origin:0 39px;transform:scale(1.0455,0.9550)">r</div>
<div class="t" id="t24_5_5" style="left:754.64px;top:1067.80px;transform-origin:0 39px;transform:scale(0.8493,0.9550)">s</div>
<div class="t" id="t24_5_6" style="left:775.86px;top:1067.80px;transform:scaleX(1.0455)">t</div>
<div class="t" id="t24_5_7" style="left:790.91px;top:1067.80px;transform-origin:0 39px;transform:scale(0.9353,0.9550)">a</div>
<div class="t" id="t24_5_8" style="left:814.84px;top:1067.80px;transform-origin:0 39px;transform:scale(1.0252,0.9550)">n</div>
<div class="t" id="t24_5_9" style="left:841.06px;top:1067.80px;transform:scaleX(1.0252)">d</div>
<div class="t" id="t24_6_0" style="left:878.58px;top:1067.80px;transform-origin:0 39px;transform:scale(1.0417,0.9550)">m</div>
<div class="t" id="t24_6_1" style="left:918.49px;top:1067.80px;transform-origin:0 39px;transform:scale(1.0291,0.9550)">o</div>
<div class="t" id="t24_6_2" style="left:945.37px;top:1067.80px;transform-origin:0 39px;transform:scale(1.0669,0.9550)">r</div>
<div class="t" id="t24_6_3" style="left:962.26px;top:1067.80px;transform-origin:0 39px;transform:scale(0.9724,0.9550)">e</div>
<div class="t" id="t25_0_0" style="left:60.38px;top:1128.50px;transform-origin:0 39px;transform:scale(0.9343,0.9550)">a</div>
<div class="t" id="t25_0_1" style="left:84.28px;top:1128.50px;transform:scaleX(1.0240)">b</div>
<div class="t" id="t25_0_2" style="left:110.48px;top:1128.50px;transform-origin:0 39px;transform:scale(1.0279,0.9550)">o</div>
<div class="t" id="t25_0_3" style="left:136.77px;top:1128.50px;transform-origin:0 39px;transform:scale(1.0240,0.9550)">u</div>
<div class="t" id="t25_0_4" style="left:164.51px;top:1128.50px;transform:scaleX(1.0675)">t</div>
<div class="t" id="t25_1_0" style="left:191.13px;top:1128.50px;transform-origin:0 39px;transform:scale(1.0637,0.9550)">w</div>
<div class="t" id="t25_1_1" style="left:226.64px;top:1128.50px;transform:scaleX(1.0240)">h</div>
<div class="t" id="t25_1_2" style="left:252.84px;top:1128.50px;transform-origin:0 39px;transform:scale(0.9828,0.9550)">y</div>
<div class="t" id="t25_2_0" style="left:286.72px;top:1128.50px;transform-origin:0 39px;transform:scale(0.9828,0.9550)">y</div>
<div class="t" id="t25_2_1" style="left:309.32px;top:1128.50px;transform-origin:0 39px;transform:scale(1.0279,0.9550)">o</div>
<div class="t" id="t25_2_2" style="left:335.62px;top:1128.50px;transform-origin:0 39px;transform:scale(1.0240,0.9550)">u</div>
<div class="t" id="t25_3_0" style="left:374.77px;top:1128.50px;transform:scaleX(1.0445)">t</div>
<div class="t" id="t25_3_1" style="left:389.81px;top:1128.50px;transform-origin:0 39px;transform:scale(0.9343,0.9550)">a</div>
<div class="t" id="t25_3_2" style="left:413.71px;top:1128.50px;transform:scaleX(0.9871)">k</div>
<div class="t" id="t25_3_3" style="left:436.41px;top:1128.50px;transform-origin:0 39px;transform:scale(0.9713,0.9550)">e</div>
<div class="t" id="t25_4_0" style="left:472.54px;top:1128.50px;transform-origin:0 39px;transform:scale(0.9177,0.9550)">c</div>
<div class="t" id="t25_4_1" style="left:493.64px;top:1128.50px;transform-origin:0 39px;transform:scale(0.9713,0.9550)">e</div>
<div class="t" id="t25_4_2" style="left:519.11px;top:1128.50px;transform-origin:0 39px;transform:scale(1.0568,0.9550)">r</div>
<div class="t" id="t25_4_3" style="left:537.51px;top:1128.50px;transform:scaleX(1.0568)">t</div>
<div class="t" id="t25_4_4" style="left:552.62px;top:1128.50px;transform-origin:0 39px;transform:scale(0.9343,0.9550)">a</div>
<div class="t" id="t25_4_5" style="left:576.86px;top:1128.50px;transform:scaleX(1.0568)">i</div>
<div class="t" id="t25_4_6" style="left:588.00px;top:1128.50px;transform-origin:0 39px;transform:scale(1.0240,0.9550)">n</div>
<div class="t" id="t25_5_0" style="left:626.02px;top:1128.50px;transform-origin:0 39px;transform:scale(1.0121,0.9550)">m</div>
<div class="t" id="t25_5_1" style="left:665.34px;top:1128.50px;transform-origin:0 39px;transform:scale(0.9713,0.9550)">e</div>
<div class="t" id="t25_5_2" style="left:690.34px;top:1128.50px;transform:scaleX(1.0121)">d</div>
<div class="t" id="t25_5_3" style="left:716.96px;top:1128.50px;transform:scaleX(1.0121)">i</div>
<div class="t" id="t25_5_4" style="left:727.87px;top:1128.50px;transform-origin:0 39px;transform:scale(0.9177,0.9550)">c</div>
<div class="t" id="t25_5_5" style="left:749.54px;top:1128.50px;transform:scaleX(1.0121)">i</div>
<div class="t" id="t25_5_6" style="left:760.60px;top:1128.50px;transform-origin:0 39px;transform:scale(1.0121,0.9550)">n</div>
<div class="t" id="t25_5_7" style="left:786.65px;top:1128.50px;transform-origin:0 39px;transform:scale(0.9713,0.9550)">e</div>
<div class="t" id="t25_5_8" style="left:811.49px;top:1128.50px;transform-origin:0 39px;transform:scale(0.8483,0.9550)">s</div>
<div class="t" id="t25_5_9" style="left:831.00px;top:1128.50px;transform:scaleX(0.9031)">?</div>
<div class="t b" id="t26_0_0" style="left:59.67px;top:1194.70px;transform:scaleX(0.7727)">S</div>
<div class="t b" id="t26_0_1" style="left:83.38px;top:1194.70px;transform:scaleX(0.9579)">h</div>
<div class="t b" id="t26_0_2" style="left:110.40px;top:1194.70px;transform-origin:0 39px;transform:scale(0.9597,0.9550)">a</div>
<div class="t b" id="t26_0_3" style="left:135.36px;top:1194.70px;transform-origin:0 39px;transform:scale(0.9597,0.9550)">r</div>
<div class="t b" id="t26_0_4" style="left:153.18px;top:1194.70px;transform-origin:0 39px;transform:scale(0.9597,0.9550)">e</div>
<div class="t b" id="t26_0_5" style="left:178.06px;top:1194.70px;transform:scaleX(0.9579)">d</div>
<div class="t b" id="t26_1_0" style="left:216.45px;top:1194.70px;transform:scaleX(0.9473)">d</div>
<div class="t b" id="t26_1_1" style="left:243.71px;top:1194.70px;transform-origin:0 39px;transform:scale(0.9473,0.9550)">e</div>
<div class="t b" id="t26_1_2" style="left:268.43px;top:1194.70px;transform-origin:0 39px;transform:scale(0.8190,0.9550)">c</div>
<div class="t b" id="t26_1_3" style="left:289.50px;top:1194.70px;transform:scaleX(0.9473)">i</div>
<div class="t b" id="t26_1_4" style="left:301.71px;top:1194.70px;transform-origin:0 39px;transform:scale(0.7817,0.9550)">s</div>
<div class="t b" id="t26_1_5" style="left:321.82px;top:1194.70px;transform:scaleX(0.9473)">i</div>
<div class="t b" id="t26_1_6" style="left:334.22px;top:1194.70px;transform-origin:0 39px;transform:scale(0.9473,0.9550)">o</div>
<div class="t b" id="t26_1_7" style="left:361.16px;top:1194.70px;transform-origin:0 39px;transform:scale(0.9473,0.9550)">n</div>
<div class="t b" id="t26_2_0" style="left:399.67px;top:1194.70px;transform-origin:0 39px;transform:scale(0.9758,0.9550)">m</div>
<div class="t b" id="t26_2_1" style="left:440.00px;top:1194.70px;transform-origin:0 39px;transform:scale(0.9679,0.9550)">a</div>
<div class="t b" id="t26_2_2" style="left:464.76px;top:1194.70px;transform:scaleX(0.9404)">k</div>
<div class="t b" id="t26_2_3" style="left:488.82px;top:1194.70px;transform:scaleX(0.9648)">i</div>
<div class="t b" id="t26_2_4" style="left:501.15px;top:1194.70px;transform-origin:0 39px;transform:scale(0.9579,0.9550)">n</div>
<div class="t b" id="t26_2_5" style="left:528.07px;top:1194.70px;transform-origin:0 39px;transform:scale(0.8455,0.9550)">g</div>
<div class="t" id="t27_0_0" style="left:61.12px;top:1259.80px;transform:scaleX(0.9230)">D</div>
<div class="t" id="t27_0_1" style="left:92.31px;top:1259.80px;transform:scaleX(1.0192)">i</div>
<div class="t" id="t27_0_2" style="left:103.30px;top:1259.80px;transform:scaleX(1.0192)">d</div>
<div class="t" id="t27_1_0" style="left:142.07px;top:1259.80px;transform:scaleX(1.0905)">t</div>
<div class="t" id="t27_1_1" style="left:157.39px;top:1259.80px;transform:scaleX(1.0231)">h</div>
<div class="t" id="t27_1_2" style="left:183.56px;top:1259.80px;transform-origin:0 39px;transform:scale(0.9705,0.9550)">e</div>
<div class="t" id="t27_2_0" style="left:219.68px;top:1259.80px;transform:scaleX(1.0216)">d</div>
<div class="t" id="t27_2_1" style="left:245.83px;top:1259.80px;transform-origin:0 39px;transform:scale(0.9334,0.9550)">a</div>
<div class="t" id="t27_2_2" style="left:269.71px;top:1259.80px;transform-origin:0 39px;transform:scale(0.8475,0.9550)">s</div>
<div class="t" id="t27_2_3" style="left:289.22px;top:1259.80px;transform:scaleX(1.0216)">h</div>
<div class="t" id="t27_2_4" style="left:315.39px;top:1259.80px;transform:scaleX(1.0216)">b</div>
<div class="t" id="t27_2_5" style="left:341.62px;top:1259.80px;transform-origin:0 39px;transform:scale(1.0216,0.9550)">o</div>
<div class="t" id="t27_2_6" style="left:367.82px;top:1259.80px;transform-origin:0 39px;transform:scale(0.9334,0.9550)">a</div>
<div class="t" id="t27_2_7" style="left:392.58px;top:1259.80px;transform-origin:0 39px;transform:scale(1.0216,0.9550)">r</div>
<div class="t" id="t27_2_8" style="left:409.12px;top:1259.80px;transform:scaleX(1.0216)">d</div>
<div class="t" id="t27_3_0" style="left:446.54px;top:1259.80px;transform:scaleX(1.0231)">h</div>
<div class="t" id="t27_3_1" style="left:472.71px;top:1259.80px;transform-origin:0 39px;transform:scale(0.9705,0.9550)">e</div>
<div class="t" id="t27_3_2" style="left:497.91px;top:1259.80px;transform:scaleX(1.0498)">l</div>
<div class="t" id="t27_3_3" style="left:509.01px;top:1259.80px;transform-origin:0 39px;transform:scale(1.0231,0.9550)">p</div>
<div class="t" id="t27_4_0" style="left:546.45px;top:1259.80px;transform-origin:0 39px;transform:scale(0.9819,0.9550)">y</div>
<div class="t" id="t27_4_1" style="left:569.03px;top:1259.80px;transform-origin:0 39px;transform:scale(1.0270,0.9550)">o</div>
<div class="t" id="t27_4_2" style="left:595.31px;top:1259.80px;transform-origin:0 39px;transform:scale(1.0231,0.9550)">u</div>
<div class="t" id="t27_5_0" style="left:633.15px;top:1259.80px;transform-origin:0 39px;transform:scale(1.0185,0.9550)">m</div>
<div class="t" id="t27_5_1" style="left:672.58px;top:1259.80px;transform-origin:0 39px;transform:scale(0.9334,0.9550)">a</div>
<div class="t" id="t27_5_2" style="left:696.46px;top:1259.80px;transform:scaleX(0.9862)">k</div>
<div class="t" id="t27_5_3" style="left:719.14px;top:1259.80px;transform-origin:0 39px;transform:scale(0.9705,0.9550)">e</div>
<div class="t" id="t27_6_0" style="left:755.24px;top:1259.80px;transform:scaleX(1.0231)">b</div>
<div class="t" id="t27_6_1" style="left:781.41px;top:1259.80px;transform-origin:0 39px;transform:scale(0.9705,0.9550)">e</div>
<div class="t" id="t27_6_2" style="left:807.50px;top:1259.80px;transform:scaleX(1.1088)">t</div>
<div class="t" id="t27_6_3" style="left:824.20px;top:1259.80px;transform:scaleX(1.1088)">t</div>
<div class="t" id="t27_6_4" style="left:839.64px;top:1259.80px;transform-origin:0 39px;transform:scale(0.9705,0.9550)">e</div>
<div class="t" id="t27_6_5" style="left:864.67px;top:1259.80px;transform-origin:0 39px;transform:scale(1.1088,0.9550)">r</div>
<div class="t" id="t28_0_0" style="left:60.58px;top:1320.50px;transform:scaleX(1.0032)">d</div>
<div class="t" id="t28_0_1" style="left:86.52px;top:1320.50px;transform-origin:0 39px;transform:scale(0.9722,0.9550)">e</div>
<div class="t" id="t28_0_2" style="left:111.39px;top:1320.50px;transform-origin:0 39px;transform:scale(0.9185,0.9550)">c</div>
<div class="t" id="t28_0_3" style="left:133.14px;top:1320.50px;transform:scaleX(1.0032)">i</div>
<div class="t" id="t28_0_4" style="left:144.01px;top:1320.50px;transform-origin:0 39px;transform:scale(0.8490,0.9550)">s</div>
<div class="t" id="t28_0_5" style="left:164.15px;top:1320.50px;transform:scaleX(1.0032)">i</div>
<div class="t" id="t28_0_6" style="left:175.35px;top:1320.50px;transform-origin:0 39px;transform:scale(1.0032,0.9550)">o</div>
<div class="t" id="t28_0_7" style="left:201.62px;top:1320.50px;transform-origin:0 39px;transform:scale(1.0032,0.9550)">n</div>
<div class="t" id="t28_0_8" style="left:227.56px;top:1320.50px;transform-origin:0 39px;transform:scale(0.8490,0.9550)">s</div>
<div class="t" id="t28_1_0" style="left:258.38px;top:1320.50px;transform-origin:0 39px;transform:scale(0.9351,0.9550)">a</div>
<div class="t" id="t28_1_1" style="left:282.30px;top:1320.50px;transform:scaleX(1.0249)">b</div>
<div class="t" id="t28_1_2" style="left:308.52px;top:1320.50px;transform-origin:0 39px;transform:scale(1.0288,0.9550)">o</div>
<div class="t" id="t28_1_3" style="left:334.84px;top:1320.50px;transform-origin:0 39px;transform:scale(1.0249,0.9550)">u</div>
<div class="t" id="t28_1_4" style="left:362.60px;top:1320.50px;transform:scaleX(1.0685)">t</div>
<div class="t" id="t28_2_0" style="left:389.08px;top:1320.50px;transform-origin:0 39px;transform:scale(0.9837,0.9550)">y</div>
<div class="t" id="t28_2_1" style="left:411.71px;top:1320.50px;transform-origin:0 39px;transform:scale(1.0288,0.9550)">o</div>
<div class="t" id="t28_2_2" style="left:438.03px;top:1320.50px;transform-origin:0 39px;transform:scale(1.0249,0.9550)">u</div>
<div class="t" id="t28_2_3" style="left:464.80px;top:1320.50px;transform-origin:0 39px;transform:scale(1.0658,0.9550)">r</div>
<div class="t" id="t28_3_0" style="left:492.96px;top:1320.50px;transform-origin:0 39px;transform:scale(0.9351,0.9550)">a</div>
<div class="t" id="t28_3_1" style="left:517.18px;top:1320.50px;transform-origin:0 39px;transform:scale(1.0994,0.9550)">r</div>
<div class="t" id="t28_3_2" style="left:535.66px;top:1320.50px;transform:scaleX(1.0994)">t</div>
<div class="t" id="t28_3_3" style="left:551.05px;top:1320.50px;transform:scaleX(1.0249)">h</div>
<div class="t" id="t28_3_4" style="left:577.56px;top:1320.50px;transform-origin:0 39px;transform:scale(1.0994,0.9550)">r</div>
<div class="t" id="t28_3_5" style="left:594.83px;top:1320.50px;transform:scaleX(1.0994)">i</div>
<div class="t" id="t28_3_6" style="left:607.53px;top:1320.50px;transform:scaleX(1.0994)">t</div>
<div class="t" id="t28_3_7" style="left:623.04px;top:1320.50px;transform:scaleX(1.0994)">i</div>
<div class="t" id="t28_3_8" style="left:634.35px;top:1320.50px;transform-origin:0 39px;transform:scale(0.8539,0.9550)">s</div>
<div class="t" id="t28_4_0" style="left:665.22px;top:1320.50px;transform-origin:0 39px;transform:scale(0.9185,0.9550)">c</div>
<div class="t" id="t28_4_1" style="left:686.35px;top:1320.50px;transform-origin:0 39px;transform:scale(0.9351,0.9550)">a</div>
<div class="t" id="t28_4_2" style="left:711.41px;top:1320.50px;transform-origin:0 39px;transform:scale(0.9889,0.9550)">r</div>
<div class="t" id="t28_4_3" style="left:727.70px;top:1320.50px;transform-origin:0 39px;transform:scale(0.9722,0.9550)">e</div>
<div class="t" id="t28_4_4" style="left:752.57px;top:1320.50px;transform:scaleX(0.9039)">?</div>
<div class="t" id="t29_0_0" style="left:61.32px;top:1384.80px;transform:scaleX(0.9241)">D</div>
<div class="t" id="t29_0_1" style="left:92.40px;top:1384.80px;transform-origin:0 39px;transform:scale(0.9985,0.9550)">o</div>
<div class="t" id="t29_1_0" style="left:129.60px;top:1384.80px;transform-origin:0 39px;transform:scale(0.9831,0.9550)">y</div>
<div class="t" id="t29_1_1" style="left:152.22px;top:1384.80px;transform-origin:0 39px;transform:scale(1.0282,0.9550)">o</div>
<div class="t" id="t29_1_2" style="left:178.52px;top:1384.80px;transform-origin:0 39px;transform:scale(1.0243,0.9550)">u</div>
<div class="t" id="t29_2_0" style="left:217.37px;top:1384.80px;transform:scaleX(1.0953)">t</div>
<div class="t" id="t29_2_1" style="left:232.73px;top:1384.80px;transform:scaleX(1.0243)">h</div>
<div class="t" id="t29_2_2" style="left:259.08px;top:1384.80px;transform:scaleX(1.0953)">i</div>
<div class="t" id="t29_2_3" style="left:270.41px;top:1384.80px;transform-origin:0 39px;transform:scale(1.0243,0.9550)">n</div>
<div class="t" id="t29_2_4" style="left:296.62px;top:1384.80px;transform:scaleX(0.9874)">k</div>
<div class="t" id="t29_3_0" style="left:330.90px;top:1384.80px;transform-origin:0 39px;transform:scale(1.0014,0.9550)">u</div>
<div class="t" id="t29_3_1" style="left:356.82px;top:1384.80px;transform-origin:0 39px;transform:scale(0.8486,0.9550)">s</div>
<div class="t" id="t29_3_2" style="left:376.96px;top:1384.80px;transform:scaleX(1.0014)">i</div>
<div class="t" id="t29_3_3" style="left:388.11px;top:1384.80px;transform-origin:0 39px;transform:scale(1.0014,0.9550)">n</div>
<div class="t" id="t29_3_4" style="left:414.02px;top:1384.80px;transform-origin:0 39px;transform:scale(0.9190,0.9550)">g</div>
<div class="t" id="t29_4_0" style="left:450.19px;top:1384.80px;transform:scaleX(1.0918)">t</div>
<div class="t" id="t29_4_1" style="left:465.53px;top:1384.80px;transform:scaleX(1.0243)">h</div>
<div class="t" id="t29_4_2" style="left:491.74px;top:1384.80px;transform-origin:0 39px;transform:scale(0.9716,0.9550)">e</div>
<div class="t" id="t29_5_0" style="left:527.89px;top:1384.80px;transform:scaleX(1.0228)">d</div>
<div class="t" id="t29_5_1" style="left:554.08px;top:1384.80px;transform-origin:0 39px;transform:scale(0.9346,0.9550)">a</div>
<div class="t" id="t29_5_2" style="left:577.99px;top:1384.80px;transform-origin:0 39px;transform:scale(0.8486,0.9550)">s</div>
<div class="t" id="t29_5_3" style="left:597.53px;top:1384.80px;transform:scaleX(1.0228)">h</div>
<div class="t" id="t29_5_4" style="left:623.73px;top:1384.80px;transform:scaleX(1.0228)">b</div>
<div class="t" id="t29_5_5" style="left:649.99px;top:1384.80px;transform-origin:0 39px;transform:scale(1.0228,0.9550)">o</div>
<div class="t" id="t29_5_6" style="left:676.22px;top:1384.80px;transform-origin:0 39px;transform:scale(0.9346,0.9550)">a</div>
<div class="t" id="t29_5_7" style="left:701.01px;top:1384.80px;transform-origin:0 39px;transform:scale(1.0228,0.9550)">r</div>
<div class="t" id="t29_5_8" style="left:717.57px;top:1384.80px;transform:scaleX(1.0228)">d</div>
<div class="t" id="t29_6_0" style="left:755.04px;top:1384.80px;transform:scaleX(1.0243)">h</div>
<div class="t" id="t29_6_1" style="left:781.24px;top:1384.80px;transform-origin:0 39px;transform:scale(0.9716,0.9550)">e</div>
<div class="t" id="t29_6_2" style="left:806.51px;top:1384.80px;transform:scaleX(1.0425)">l</div>
<div class="t" id="t29_6_3" style="left:817.58px;top:1384.80px;transform-origin:0 39px;transform:scale(1.0243,0.9550)">p</div>
<div class="t" id="t29_6_4" style="left:843.79px;top:1384.80px;transform-origin:0 39px;transform:scale(0.9716,0.9550)">e</div>
<div class="t" id="t29_6_5" style="left:868.65px;top:1384.80px;transform:scaleX(1.0243)">d</div>
<div class="t" id="t29_7_0" style="left:906.13px;top:1384.80px;transform-origin:0 39px;transform:scale(0.9831,0.9550)">y</div>
<div class="t" id="t29_7_1" style="left:928.74px;top:1384.80px;transform-origin:0 39px;transform:scale(1.0282,0.9550)">o</div>
<div class="t" id="t29_7_2" style="left:955.05px;top:1384.80px;transform-origin:0 39px;transform:scale(1.0243,0.9550)">u</div>
<div class="t" id="t29_7_3" style="left:981.81px;top:1384.80px;transform-origin:0 39px;transform:scale(1.0652,0.9550)">r</div>
<div class="t" id="t30_0_0" style="left:59.57px;top:1445.50px;transform:scaleX(1.0275)">d</div>
<div class="t" id="t30_0_1" style="left:85.86px;top:1445.50px;transform-origin:0 39px;transform:scale(1.0315,0.9550)">o</div>
<div class="t" id="t30_0_2" style="left:112.25px;top:1445.50px;transform-origin:0 39px;transform:scale(0.9209,0.9550)">c</div>
<div class="t" id="t30_0_3" style="left:134.89px;top:1445.50px;transform:scaleX(1.0835)">t</div>
<div class="t" id="t30_0_4" style="left:150.20px;top:1445.50px;transform-origin:0 39px;transform:scale(1.0315,0.9550)">o</div>
<div class="t" id="t30_0_5" style="left:177.03px;top:1445.50px;transform-origin:0 39px;transform:scale(1.0835,0.9550)">r</div>
<div class="t" id="t30_1_0" style="left:206.36px;top:1445.50px;transform:scaleX(1.1588)">t</div>
<div class="t" id="t30_1_1" style="left:222.15px;top:1445.50px;transform-origin:0 39px;transform:scale(1.0315,0.9550)">o</div>
<div class="t" id="t30_2_0" style="left:259.86px;top:1445.50px;transform:scaleX(1.0275)">b</div>
<div class="t" id="t30_2_1" style="left:286.15px;top:1445.50px;transform-origin:0 39px;transform:scale(0.9747,0.9550)">e</div>
<div class="t" id="t30_2_2" style="left:312.35px;top:1445.50px;transform:scaleX(1.1137)">t</div>
<div class="t" id="t30_2_3" style="left:329.13px;top:1445.50px;transform:scaleX(1.1137)">t</div>
<div class="t" id="t30_2_4" style="left:344.63px;top:1445.50px;transform-origin:0 39px;transform:scale(0.9747,0.9550)">e</div>
<div class="t" id="t30_2_5" style="left:369.77px;top:1445.50px;transform-origin:0 39px;transform:scale(1.1137,0.9550)">r</div>
<div class="t" id="t30_3_0" style="left:398.36px;top:1445.50px;transform-origin:0 39px;transform:scale(1.0275,0.9550)">u</div>
<div class="t" id="t30_3_1" style="left:424.64px;top:1445.50px;transform-origin:0 39px;transform:scale(1.0275,0.9550)">n</div>
<div class="t" id="t30_3_2" style="left:450.93px;top:1445.50px;transform:scaleX(1.0275)">d</div>
<div class="t" id="t30_3_3" style="left:477.22px;top:1445.50px;transform-origin:0 39px;transform:scale(0.9747,0.9550)">e</div>
<div class="t" id="t30_3_4" style="left:502.87px;top:1445.50px;transform-origin:0 39px;transform:scale(1.0479,0.9550)">r</div>
<div class="t" id="t30_3_5" style="left:519.63px;top:1445.50px;transform-origin:0 39px;transform:scale(0.8512,0.9550)">s</div>
<div class="t" id="t30_3_6" style="left:540.90px;top:1445.50px;transform:scaleX(1.0479)">t</div>
<div class="t" id="t30_3_7" style="left:555.98px;top:1445.50px;transform-origin:0 39px;transform:scale(0.9375,0.9550)">a</div>
<div class="t" id="t30_3_8" style="left:579.97px;top:1445.50px;transform-origin:0 39px;transform:scale(1.0275,0.9550)">n</div>
<div class="t" id="t30_3_9" style="left:606.26px;top:1445.50px;transform:scaleX(1.0275)">d</div>
<div class="t" id="t30_4_0" style="left:644.05px;top:1445.50px;transform-origin:0 39px;transform:scale(1.0663,0.9550)">w</div>
<div class="t" id="t30_4_1" style="left:679.66px;top:1445.50px;transform:scaleX(1.0275)">h</div>
<div class="t" id="t30_4_2" style="left:705.95px;top:1445.50px;transform-origin:0 39px;transform:scale(0.9375,0.9550)">a</div>
<div class="t" id="t30_4_3" style="left:731.51px;top:1445.50px;transform:scaleX(1.0663)">t</div>
<div class="t" id="t30_4_4" style="left:747.56px;top:1445.50px;transform:scaleX(1.0663)">'</div>
<div class="t" id="t30_4_5" style="left:757.77px;top:1445.50px;transform-origin:0 39px;transform:scale(0.8512,0.9550)">s</div>
<div class="t" id="t30_5_0" style="left:788.67px;top:1445.50px;transform-origin:0 39px;transform:scale(1.0441,0.9550)">m</div>
<div class="t" id="t30_5_1" style="left:828.68px;top:1445.50px;transform-origin:0 39px;transform:scale(1.0315,0.9550)">o</div>
<div class="t" id="t30_5_2" style="left:855.06px;top:1445.50px;transform-origin:0 39px;transform:scale(0.8512,0.9550)">s</div>
<div class="t" id="t30_5_3" style="left:876.24px;top:1445.50px;transform:scaleX(1.0617)">t</div>
<div class="t" id="t31_0_0" style="left:59.97px;top:1506.40px;transform:scaleX(1.0963)">i</div>
<div class="t" id="t31_0_1" style="left:71.29px;top:1506.40px;transform-origin:0 39px;transform:scale(1.0369,0.9550)">m</div>
<div class="t" id="t31_0_2" style="left:111.02px;top:1506.40px;transform-origin:0 39px;transform:scale(1.0205,0.9550)">p</div>
<div class="t" id="t31_0_3" style="left:137.13px;top:1506.40px;transform-origin:0 39px;transform:scale(1.0244,0.9550)">o</div>
<div class="t" id="t31_0_4" style="left:163.62px;top:1506.40px;transform-origin:0 39px;transform:scale(1.0963,0.9550)">r</div>
<div class="t" id="t31_0_5" style="left:182.02px;top:1506.40px;transform:scaleX(1.0963)">t</div>
<div class="t" id="t31_0_6" style="left:197.35px;top:1506.40px;transform-origin:0 39px;transform:scale(0.9311,0.9550)">a</div>
<div class="t" id="t31_0_7" style="left:221.17px;top:1506.40px;transform-origin:0 39px;transform:scale(1.0205,0.9550)">n</div>
<div class="t" id="t31_0_8" style="left:248.60px;top:1506.40px;transform:scaleX(1.0963)">t</div>
<div class="t" id="t31_1_0" style="left:276.15px;top:1506.40px;transform:scaleX(1.1509)">t</div>
<div class="t" id="t31_1_1" style="left:291.84px;top:1506.40px;transform-origin:0 39px;transform:scale(1.0244,0.9550)">o</div>
<div class="t" id="t31_2_0" style="left:329.28px;top:1506.40px;transform-origin:0 39px;transform:scale(0.9794,0.9550)">y</div>
<div class="t" id="t31_2_1" style="left:351.99px;top:1506.40px;transform-origin:0 39px;transform:scale(1.0106,0.9550)">o</div>
<div class="t" id="t31_2_2" style="left:378.14px;top:1506.40px;transform-origin:0 39px;transform:scale(1.0106,0.9550)">u</div>
<div class="t" id="t31_2_3" style="left:404.12px;top:1506.40px;transform:scaleX(0.9000)">?</div>
<div class="t" id="n2_0_0" style="left:1084.97px;top:281.20px;transform:scaleX(0.9909)">1</div>
<div class="t" id="n2_0_1" style="left:1110.33px;top:281.20px;transform:scaleX(0.9909)">8</div>
<div class="t" id="n2_0_2" style="left:1135.67px;top:281.20px;transform:scaleX(0.9909)">1</div>
<div class="t" id="n2_1_0" style="left:1229.78px;top:281.20px;transform:scaleX(0.9909)">7</div>
<div class="t" id="n2_1_1" style="left:1255.13px;top:281.20px;transform:scaleX(0.9909)">9</div>
<div class="t" id="n2_1_2" style="left:1280.48px;top:281.20px;transform:scaleX(0.8741)">%</div>
<div class="t" id="n2_2_0" style="left:1454.88px;top:281.20px;transform:scaleX(0.9723)">N</div>
<div class="t" id="n2_2_1" style="left:1487.18px;top:281.20px;transform:scaleX(0.9436)">A</div>
<div class="t" id="n2_3_0" style="left:1660.95px;top:281.20px;transform:scaleX(0.9909)">8</div>
<div class="t" id="n2_3_1" style="left:1686.30px;top:281.20px;transform:scaleX(0.8741)">%</div>
<div class="t" id="n2_4_0" style="left:1819.78px;top:281.20px;transform:scaleX(0.9909)">1</div>
<div class="t" id="n2_4_1" style="left:1845.13px;top:281.20px;transform:scaleX(0.9909)">3</div>
<div class="t" id="n2_4_2" style="left:1870.48px;top:281.20px;transform:scaleX(0.8741)">%</div>
<div class="t" id="n4_0_0" style="left:1084.97px;top:473.20px;transform:scaleX(0.9909)">1</div>
<div class="t" id="n4_0_1" style="left:1110.33px;top:473.20px;transform:scaleX(0.9909)">8</div>
<div class="t" id="n4_0_2" style="left:1135.67px;top:473.20px;transform:scaleX(0.9909)">0</div>
<div class="t" id="n4_1_0" style="left:1229.78px;top:473.20px;transform:scaleX(0.9909)">7</div>
<div class="t" id="n4_1_1" style="left:1255.13px;top:473.20px;transform:scaleX(0.9909)">6</div>
<div class="t" id="n4_1_2" style="left:1280.48px;top:473.20px;transform:scaleX(0.8741)">%</div>
<div class="t" id="n4_2_0" style="left:1442.28px;top:473.20px;transform:scaleX(0.9909)">1</div>
<div class="t" id="n4_2_1" style="left:1467.63px;top:473.20px;transform:scaleX(0.9909)">5</div>
<div class="t" id="n4_2_2" style="left:1492.98px;top:473.20px;transform:scaleX(0.8741)">%</div>
<div class="t" id="n4_3_0" style="left:1660.95px;top:473.20px;transform:scaleX(0.9909)">8</div>
<div class="t" id="n4_3_1" style="left:1686.30px;top:473.20px;transform:scaleX(0.8741)">%</div>
<div class="t" id="n4_4_0" style="left:1832.45px;top:473.20px;transform:scaleX(0.9909)">2</div>
<div class="t" id="n4_4_1" style="left:1857.80px;top:473.20px;transform:scaleX(0.8741)">%</div>
<div class="t" id="n5_0_0" style="left:1084.97px;top:597.20px;transform:scaleX(0.9909)">1</div>
<div class="t" id="n5_0_1" style="left:1110.33px;top:597.20px;transform:scaleX(0.9909)">8</div>
<div class="t" id="n5_0_2" style="left:1135.67px;top:597.20px;transform:scaleX(0.9909)">1</div>
<div class="t" id="n5_1_0" style="left:1229.78px;top:597.20px;transform:scaleX(0.9909)">7</div>
<div class="t" id="n5_1_1" style="left:1255.13px;top:597.20px;transform:scaleX(0.9909)">1</div>
<div class="t" id="n5_1_2" style="left:1280.48px;top:597.20px;transform:scaleX(0.8741)">%</div>
<div class="t" id="n5_2_0" style="left:1442.28px;top:597.20px;transform:scaleX(0.9909)">1</div>
<div class="t" id="n5_2_1" style="left:1467.63px;top:597.20px;transform:scaleX(0.9909)">4</div>
<div class="t" id="n5_2_2" style="left:1492.98px;top:597.20px;transform:scaleX(0.8741)">%</div>
<div class="t" id="n5_3_0" style="left:1648.28px;top:597.20px;transform:scaleX(0.9909)">1</div>
<div class="t" id="n5_3_1" style="left:1673.63px;top:597.20px;transform:scaleX(0.9909)">0</div>
<div class="t" id="n5_3_2" style="left:1698.98px;top:597.20px;transform:scaleX(0.8741)">%</div>
<div class="t" id="n5_4_0" style="left:1832.45px;top:597.20px;transform:scaleX(0.9909)">5</div>
<div class="t" id="n5_4_1" style="left:1857.80px;top:597.20px;transform:scaleX(0.8741)">%</div>
<div class="t" id="n6_0_0" style="left:1084.97px;top:751.70px;transform:scaleX(0.9909)">1</div>
<div class="t" id="n6_0_1" style="left:1110.33px;top:751.70px;transform:scaleX(0.9909)">7</div>
<div class="t" id="n6_0_2" style="left:1135.67px;top:751.70px;transform:scaleX(0.9909)">9</div>
<div class="t" id="n6_1_0" style="left:1229.78px;top:751.70px;transform:scaleX(0.9909)">6</div>
<div class="t" id="n6_1_1" style="left:1255.13px;top:751.70px;transform:scaleX(0.9909)">1</div>
<div class="t" id="n6_1_2" style="left:1280.48px;top:751.70px;transform:scaleX(0.8741)">%</div>
<div class="t" id="n6_2_0" style="left:1442.28px;top:751.70px;transform:scaleX(0.9909)">1</div>
<div class="t" id="n6_2_1" style="left:1467.63px;top:751.70px;transform:scaleX(0.9909)">7</div>
<div class="t" id="n6_2_2" style="left:1492.98px;top:751.70px;transform:scaleX(0.8741)">%</div>
<div class="t" id="n6_3_0" style="left:1648.28px;top:751.70px;transform:scaleX(0.9909)">1</div>
<div class="t" id="n6_3_1" style="left:1673.63px;top:751.70px;transform:scaleX(0.9909)">7</div>
<div class="t" id="n6_3_2" style="left:1698.98px;top:751.70px;transform:scaleX(0.8741)">%</div>
<div class="t" id="n6_4_0" style="left:1832.45px;top:751.70px;transform:scaleX(0.9909)">4</div>
<div class="t" id="n6_4_1" style="left:1857.80px;top:751.70px;transform:scaleX(0.8741)">%</div>
<div class="t" id="n8_0_0" style="left:1084.97px;top:974.20px;transform:scaleX(0.9909)">1</div>
<div class="t" id="n8_0_1" style="left:1110.33px;top:974.20px;transform:scaleX(0.9909)">7</div>
<div class="t" id="n8_0_2" style="left:1135.67px;top:974.20px;transform:scaleX(0.9909)">8</div>
<div class="t" id="n8_1_0" style="left:1229.78px;top:974.20px;transform:scaleX(0.9909)">7</div>
<div class="t" id="n8_1_1" style="left:1255.13px;top:974.20px;transform:scaleX(0.9909)">1</div>
<div class="t" id="n8_1_2" style="left:1280.48px;top:974.20px;transform:scaleX(0.8741)">%</div>
<div class="t" id="n8_2_0" style="left:1442.28px;top:974.20px;transform:scaleX(0.9909)">2</div>
<div class="t" id="n8_2_1" style="left:1467.63px;top:974.20px;transform:scaleX(0.9909)">1</div>
<div class="t" id="n8_2_2" style="left:1492.98px;top:974.20px;transform:scaleX(0.8741)">%</div>
<div class="t" id="n8_3_0" style="left:1660.95px;top:974.20px;transform:scaleX(0.9909)">5</div>
<div class="t" id="n8_3_1" style="left:1686.30px;top:974.20px;transform:scaleX(0.8741)">%</div>
<div class="t" id="n8_4_0" style="left:1832.45px;top:974.20px;transform:scaleX(0.9909)">2</div>
<div class="t" id="n8_4_1" style="left:1857.80px;top:974.20px;transform:scaleX(0.8741)">%</div>
<div class="t" id="n9_0_0" style="left:1084.97px;top:1098.20px;transform:scaleX(0.9909)">1</div>
<div class="t" id="n9_0_1" style="left:1110.33px;top:1098.20px;transform:scaleX(0.9909)">7</div>
<div class="t" id="n9_0_2" style="left:1135.67px;top:1098.20px;transform:scaleX(0.9909)">9</div>
<div class="t" id="n9_1_0" style="left:1229.78px;top:1098.20px;transform:scaleX(0.9909)">6</div>
<div class="t" id="n9_1_1" style="left:1255.13px;top:1098.20px;transform:scaleX(0.9909)">0</div>
<div class="t" id="n9_1_2" style="left:1280.48px;top:1098.20px;transform:scaleX(0.8741)">%</div>
<div class="t" id="n9_2_0" style="left:1442.28px;top:1098.20px;transform:scaleX(0.9909)">1</div>
<div class="t" id="n9_2_1" style="left:1467.63px;top:1098.20px;transform:scaleX(0.9909)">6</div>
<div class="t" id="n9_2_2" style="left:1492.98px;top:1098.20px;transform:scaleX(0.8741)">%</div>
<div class="t" id="n9_3_0" style="left:1648.28px;top:1098.20px;transform:scaleX(0.9909)">1</div>
<div class="t" id="n9_3_1" style="left:1673.63px;top:1098.20px;transform:scaleX(0.9909)">8</div>
<div class="t" id="n9_3_2" style="left:1698.98px;top:1098.20px;transform:scaleX(0.8741)">%</div>
<div class="t" id="n9_4_0" style="left:1832.45px;top:1098.20px;transform:scaleX(0.9909)">6</div>
<div class="t" id="n9_4_1" style="left:1857.80px;top:1098.20px;transform:scaleX(0.8741)">%</div>
<div class="t" id="n11_0_0" style="left:1084.97px;top:1290.70px;transform:scaleX(0.9909)">1</div>
<div class="t" id="n11_0_1" style="left:1110.33px;top:1290.70px;transform:scaleX(0.9909)">7</div>
<div class="t" id="n11_0_2" style="left:1135.67px;top:1290.70px;transform:scaleX(0.9909)">6</div>
<div class="t" id="n11_1_0" style="left:1229.78px;top:1290.70px;transform:scaleX(0.9909)">6</div>
<div class="t" id="n11_1_1" style="left:1255.13px;top:1290.70px;transform:scaleX(0.9909)">7</div>
<div class="t" id="n11_1_2" style="left:1280.48px;top:1290.70px;transform:scaleX(0.8741)">%</div>
<div class="t" id="n11_2_0" style="left:1442.28px;top:1290.70px;transform:scaleX(0.9909)">1</div>
<div class="t" id="n11_2_1" style="left:1467.63px;top:1290.70px;transform:scaleX(0.9909)">9</div>
<div class="t" id="n11_2_2" style="left:1492.98px;top:1290.70px;transform:scaleX(0.8741)">%</div>
<div class="t" id="n11_3_0" style="left:1648.28px;top:1290.70px;transform:scaleX(0.9909)">1</div>
<div class="t" id="n11_3_1" style="left:1673.63px;top:1290.70px;transform:scaleX(0.9909)">0</div>
<div class="t" id="n11_3_2" style="left:1698.98px;top:1290.70px;transform:scaleX(0.8741)">%</div>
<div class="t" id="n11_4_0" style="left:1832.45px;top:1290.70px;transform:scaleX(0.9909)">5</div>
<div class="t" id="n11_4_1" style="left:1857.80px;top:1290.70px;transform:scaleX(0.8741)">%</div>
<div class="t" id="n12_0_0" style="left:1084.97px;top:1445.70px;transform:scaleX(0.9909)">1</div>
<div class="t" id="n12_0_1" style="left:1110.33px;top:1445.70px;transform:scaleX(0.9909)">7</div>
<div class="t" id="n12_0_2" style="left:1135.67px;top:1445.70px;transform:scaleX(0.9909)">5</div>
<div class="t" id="n12_1_0" style="left:1229.78px;top:1445.70px;transform:scaleX(0.9909)">4</div>
<div class="t" id="n12_1_1" style="left:1255.13px;top:1445.70px;transform:scaleX(0.9909)">6</div>
<div class="t" id="n12_1_2" style="left:1280.48px;top:1445.70px;transform:scaleX(0.8741)">%</div>
<div class="t" id="n12_2_0" style="left:1442.28px;top:1445.70px;transform:scaleX(0.9909)">2</div>
<div class="t" id="n12_2_1" style="left:1467.63px;top:1445.70px;transform:scaleX(0.9909)">1</div>
<div class="t" id="n12_2_2" style="left:1492.98px;top:1445.70px;transform:scaleX(0.8741)">%</div>
<div class="t" id="n12_3_0" style="left:1648.28px;top:1445.70px;transform:scaleX(0.9909)">2</div>
<div class="t" id="n12_3_1" style="left:1673.63px;top:1445.70px;transform:scaleX(0.9909)">2</div>
<div class="t" id="n12_3_2" style="left:1698.98px;top:1445.70px;transform:scaleX(0.8741)">%</div>
<div class="t" id="n12_4_0" style="left:1819.78px;top:1445.70px;transform:scaleX(0.9909)">1</div>
<div class="t" id="n12_4_1" style="left:1845.13px;top:1445.70px;transform:scaleX(0.9909)">1</div>
<div class="t" id="n12_4_2" style="left:1870.48px;top:1445.70px;transform:scaleX(0.8741)">%</div>
</div></body></html>
